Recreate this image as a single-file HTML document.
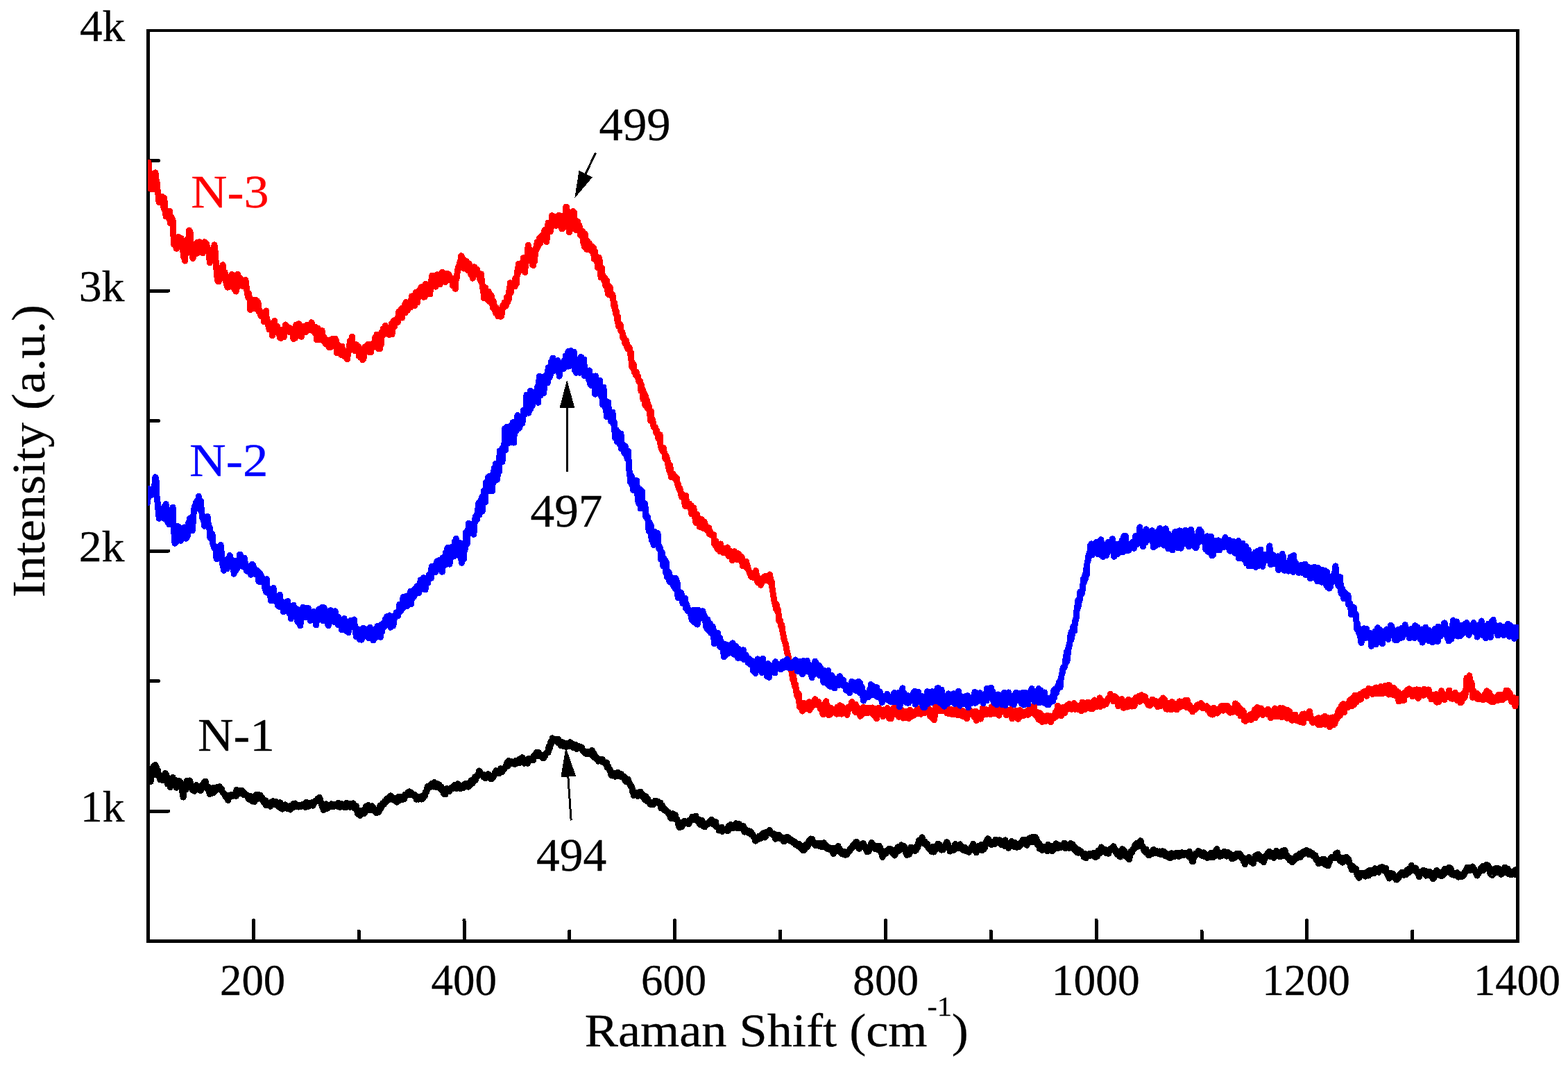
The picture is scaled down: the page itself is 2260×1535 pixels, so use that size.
<!DOCTYPE html>
<html lang="en"><head><meta charset="utf-8"><title>Raman spectra</title>
<style>html,body{margin:0;padding:0;background:#fff;overflow:hidden}svg{display:block}text{font-family:'Liberation Serif', serif}</style></head><body>
<svg width="2260" height="1535" viewBox="0 0 2260 1535">
<rect x="0" y="0" width="2260" height="1535" fill="#fff"/>
<g fill="#000" stroke="none" shape-rendering="crispEdges">
<rect x="211" y="42" width="5" height="1317"/>
<rect x="2185" y="42" width="5" height="1317"/>
<rect x="211" y="42" width="1979" height="4"/>
<rect x="211" y="1354" width="1979" height="5"/>
</g>
<g fill="none" stroke="#000" stroke-width="5" stroke-linecap="round" shape-rendering="crispEdges">
<path d="M365.3,1356V1326.5M517.2,1356V1342.0M669.0,1356V1326.5M820.9,1356V1342.0M972.7,1356V1326.5M1124.6,1356V1342.0M1276.4,1356V1326.5M1428.3,1356V1342.0M1580.1,1356V1326.5M1732.0,1356V1342.0M1883.8,1356V1326.5M2035.7,1356V1342.0M213.5,1169.0H243.0M213.5,981.5H228.5M213.5,794.0H243.0M213.5,606.5H228.5M213.5,419.0H243.0M213.5,231.5H228.5"/>
</g>
<clipPath id="plot"><rect x="213" y="46" width="1976" height="1308"/></clipPath>
<g fill="none" stroke-linejoin="round" stroke-linecap="round" shape-rendering="crispEdges" clip-path="url(#plot)">
<path id="black" stroke="#000" stroke-width="9" d="M212.5,1124.1 L213.3,1119.9 L214.0,1121.0 L214.8,1119.3 L215.5,1124.9 L216.3,1115.7 L217.1,1126.6 L217.8,1117.2 L218.6,1118.9 L219.3,1114.4 L220.1,1117.6 L220.9,1104.4 L221.6,1107.5 L222.4,1104.8 L223.1,1108.4 L223.9,1102.3 L224.7,1106.7 L225.4,1105.6 L226.2,1109.8 L226.9,1114.0 L227.7,1110.1 L228.5,1118.7 L229.2,1119.9 L230.0,1121.0 L230.7,1123.6 L231.5,1119.7 L232.3,1123.6 L233.0,1122.5 L233.8,1123.8 L234.5,1124.8 L235.3,1120.6 L236.1,1120.2 L236.8,1117.5 L237.6,1115.7 L238.3,1114.5 L239.1,1117.7 L239.9,1116.3 L240.6,1122.8 L241.4,1130.1 L242.1,1129.4 L242.9,1128.1 L243.7,1127.8 L244.4,1129.7 L245.2,1134.7 L245.9,1128.2 L246.7,1123.0 L247.5,1123.7 L248.2,1127.2 L249.0,1120.3 L249.7,1123.8 L250.5,1124.7 L251.3,1124.4 L252.0,1124.4 L252.8,1129.2 L253.5,1131.0 L254.3,1135.3 L255.1,1134.4 L255.8,1133.4 L256.6,1131.1 L257.3,1131.7 L258.1,1125.5 L258.9,1131.4 L259.6,1128.0 L260.4,1127.7 L261.1,1133.1 L261.9,1134.4 L262.7,1141.2 L263.4,1145.3 L264.2,1149.1 L264.9,1136.8 L265.7,1135.5 L266.5,1137.0 L267.2,1137.8 L268.0,1137.9 L268.7,1134.4 L269.5,1125.2 L270.3,1129.2 L271.0,1131.0 L271.8,1127.6 L272.5,1128.3 L273.3,1125.0 L274.1,1127.3 L274.8,1130.6 L275.6,1134.6 L276.3,1136.1 L277.1,1138.5 L277.9,1136.3 L278.6,1139.3 L279.4,1137.5 L280.1,1140.3 L280.9,1139.8 L281.7,1135.5 L282.4,1133.3 L283.2,1131.5 L283.9,1135.9 L284.7,1134.8 L285.5,1134.7 L286.2,1136.4 L287.0,1135.2 L287.7,1138.8 L288.5,1134.5 L289.3,1139.6 L290.0,1136.6 L290.8,1136.6 L291.5,1130.8 L292.3,1134.3 L293.1,1134.2 L293.8,1128.1 L294.6,1129.3 L295.3,1130.4 L296.1,1126.1 L296.9,1133.1 L297.6,1136.1 L298.4,1132.8 L299.1,1137.4 L299.9,1133.7 L300.7,1139.8 L301.4,1138.6 L302.2,1144.7 L302.9,1142.4 L303.7,1140.6 L304.5,1138.9 L305.2,1142.4 L306.0,1143.1 L306.7,1135.8 L307.5,1141.8 L308.3,1142.2 L309.0,1139.1 L309.8,1135.7 L310.5,1139.8 L311.3,1137.4 L312.1,1136.0 L312.8,1134.4 L313.6,1137.7 L314.3,1137.7 L315.1,1134.8 L315.9,1136.9 L316.6,1133.8 L317.4,1137.5 L318.1,1135.7 L318.9,1136.2 L319.7,1137.7 L320.4,1141.2 L321.2,1142.1 L321.9,1143.0 L322.7,1143.1 L323.5,1144.2 L324.2,1146.7 L325.0,1147.1 L325.7,1149.2 L326.5,1148.4 L327.3,1146.1 L328.0,1151.8 L328.8,1153.7 L329.5,1149.8 L330.3,1148.5 L331.1,1148.0 L331.8,1147.4 L332.6,1147.4 L333.3,1145.4 L334.1,1146.3 L334.9,1145.3 L335.6,1147.3 L336.4,1145.7 L337.1,1146.9 L337.9,1145.3 L338.7,1146.6 L339.4,1144.3 L340.2,1147.6 L340.9,1138.3 L341.7,1140.3 L342.5,1143.0 L343.2,1144.7 L344.0,1139.6 L344.7,1139.8 L345.5,1139.1 L346.3,1143.2 L347.0,1140.3 L347.8,1142.7 L348.5,1141.5 L349.3,1139.8 L350.1,1143.0 L350.8,1144.0 L351.6,1145.9 L352.3,1143.9 L353.1,1143.4 L353.9,1146.2 L354.6,1146.0 L355.4,1146.3 L356.1,1146.3 L356.9,1149.3 L357.7,1148.5 L358.4,1152.1 L359.2,1151.2 L359.9,1150.5 L360.7,1147.1 L361.5,1152.7 L362.2,1153.2 L363.0,1154.4 L363.7,1155.1 L364.5,1152.8 L365.3,1155.0 L366.0,1151.5 L366.8,1155.4 L367.5,1148.3 L368.3,1146.5 L369.1,1145.2 L369.8,1146.0 L370.6,1145.4 L371.3,1151.5 L372.1,1146.9 L372.9,1145.1 L373.6,1150.0 L374.4,1147.1 L375.1,1146.0 L375.9,1150.3 L376.7,1150.4 L377.4,1148.8 L378.2,1153.1 L378.9,1151.9 L379.7,1155.6 L380.5,1154.5 L381.2,1157.9 L382.0,1155.9 L382.7,1153.6 L383.5,1160.7 L384.3,1156.2 L385.0,1157.9 L385.8,1158.0 L386.5,1158.6 L387.3,1159.7 L388.1,1159.5 L388.8,1160.0 L389.6,1162.3 L390.3,1158.5 L391.1,1155.9 L391.9,1156.2 L392.6,1156.9 L393.4,1154.6 L394.1,1159.6 L394.9,1156.8 L395.7,1157.1 L396.4,1157.8 L397.2,1155.1 L397.9,1156.5 L398.7,1160.0 L399.5,1159.9 L400.2,1157.9 L401.0,1162.6 L401.7,1157.1 L402.5,1159.1 L403.3,1160.0 L404.0,1156.7 L404.8,1165.0 L405.5,1162.2 L406.3,1160.1 L407.1,1166.3 L407.8,1164.2 L408.6,1164.1 L409.3,1161.8 L410.1,1163.2 L410.9,1159.8 L411.6,1164.8 L412.4,1162.2 L413.1,1163.1 L413.9,1165.3 L414.7,1163.8 L415.4,1163.5 L416.2,1163.8 L416.9,1161.8 L417.7,1165.4 L418.5,1167.1 L419.2,1165.6 L420.0,1165.4 L420.7,1161.6 L421.5,1160.9 L422.3,1158.8 L423.0,1163.6 L423.8,1160.0 L424.5,1163.0 L425.3,1157.9 L426.1,1158.7 L426.8,1160.3 L427.6,1162.5 L428.3,1161.5 L429.1,1162.0 L429.9,1161.9 L430.6,1163.1 L431.4,1160.5 L432.1,1162.3 L432.9,1161.8 L433.7,1161.7 L434.4,1162.3 L435.2,1159.9 L435.9,1160.4 L436.7,1159.8 L437.5,1161.3 L438.2,1161.8 L439.0,1158.4 L439.7,1161.4 L440.5,1163.6 L441.3,1156.3 L442.0,1157.7 L442.8,1157.5 L443.5,1158.9 L444.3,1162.7 L445.1,1159.4 L445.8,1157.7 L446.6,1160.0 L447.3,1157.3 L448.1,1160.5 L448.9,1158.5 L449.6,1160.7 L450.4,1156.3 L451.1,1161.1 L451.9,1158.5 L452.7,1158.0 L453.4,1156.2 L454.2,1154.5 L454.9,1154.1 L455.7,1154.8 L456.5,1153.2 L457.2,1154.3 L458.0,1151.1 L458.7,1153.5 L459.5,1153.2 L460.3,1149.2 L461.0,1152.5 L461.8,1152.2 L462.5,1157.4 L463.3,1158.4 L464.1,1162.1 L464.8,1160.2 L465.6,1164.7 L466.3,1167.5 L467.1,1163.4 L467.9,1160.1 L468.6,1159.6 L469.4,1159.4 L470.1,1158.8 L470.9,1162.3 L471.7,1165.5 L472.4,1162.2 L473.2,1163.1 L473.9,1162.0 L474.7,1162.1 L475.5,1161.5 L476.2,1161.4 L477.0,1162.1 L477.7,1158.6 L478.5,1162.7 L479.3,1162.7 L480.0,1160.1 L480.8,1162.5 L481.5,1159.2 L482.3,1159.5 L483.1,1160.8 L483.8,1160.1 L484.6,1159.7 L485.3,1159.5 L486.1,1159.8 L486.9,1162.4 L487.6,1157.3 L488.4,1161.8 L489.1,1161.2 L489.9,1163.4 L490.7,1163.1 L491.4,1158.1 L492.2,1162.9 L492.9,1162.1 L493.7,1161.1 L494.5,1160.2 L495.2,1162.3 L496.0,1159.5 L496.7,1163.8 L497.5,1161.0 L498.3,1164.0 L499.0,1158.7 L499.8,1157.2 L500.5,1162.2 L501.3,1162.7 L502.1,1160.9 L502.8,1158.0 L503.6,1160.8 L504.3,1163.2 L505.1,1161.5 L505.9,1161.6 L506.6,1161.0 L507.4,1159.2 L508.1,1159.7 L508.9,1157.9 L509.7,1164.4 L510.4,1160.9 L511.2,1163.6 L511.9,1161.1 L512.7,1165.9 L513.5,1161.7 L514.2,1168.8 L515.0,1168.1 L515.7,1173.3 L516.5,1167.7 L517.3,1171.4 L518.0,1172.6 L518.8,1175.5 L519.5,1173.1 L520.3,1173.8 L521.1,1168.9 L521.8,1170.3 L522.6,1171.8 L523.3,1172.6 L524.1,1169.0 L524.9,1172.7 L525.6,1171.7 L526.4,1167.0 L527.1,1162.2 L527.9,1162.5 L528.7,1163.9 L529.4,1167.2 L530.2,1165.5 L530.9,1160.3 L531.7,1163.7 L532.5,1167.3 L533.2,1163.6 L534.0,1162.5 L534.7,1167.8 L535.5,1163.2 L536.3,1161.7 L537.0,1164.0 L537.8,1164.1 L538.5,1164.3 L539.3,1168.5 L540.1,1169.3 L540.8,1168.8 L541.6,1168.3 L542.3,1171.9 L543.1,1170.3 L543.9,1170.4 L544.6,1170.7 L545.4,1169.3 L546.1,1170.3 L546.9,1166.6 L547.7,1161.3 L548.4,1161.4 L549.2,1165.3 L549.9,1160.9 L550.7,1161.1 L551.5,1157.7 L552.2,1160.4 L553.0,1156.7 L553.7,1159.3 L554.5,1154.7 L555.3,1157.2 L556.0,1156.0 L556.8,1152.2 L557.5,1154.9 L558.3,1150.7 L559.1,1150.4 L559.8,1153.2 L560.6,1149.2 L561.3,1148.7 L562.1,1148.6 L562.9,1146.8 L563.6,1151.1 L564.4,1150.5 L565.1,1149.8 L565.9,1149.6 L566.7,1150.7 L567.4,1153.4 L568.2,1152.4 L568.9,1150.2 L569.7,1153.2 L570.5,1151.5 L571.2,1151.3 L572.0,1156.1 L572.7,1151.1 L573.5,1151.2 L574.3,1148.5 L575.0,1149.8 L575.8,1153.8 L576.5,1150.9 L577.3,1152.3 L578.1,1148.6 L578.8,1149.0 L579.6,1151.0 L580.3,1152.3 L581.1,1150.1 L581.9,1151.2 L582.6,1151.7 L583.4,1149.6 L584.1,1145.0 L584.9,1146.0 L585.7,1146.7 L586.4,1144.1 L587.2,1145.7 L587.9,1141.8 L588.7,1143.1 L589.5,1145.8 L590.2,1140.8 L591.0,1143.0 L591.7,1145.2 L592.5,1142.0 L593.3,1145.6 L594.0,1143.8 L594.8,1145.1 L595.5,1145.1 L596.3,1146.7 L597.1,1145.1 L597.8,1147.1 L598.6,1146.1 L599.3,1149.2 L600.1,1152.2 L600.9,1150.3 L601.6,1151.2 L602.4,1148.7 L603.1,1152.2 L603.9,1148.6 L604.7,1148.5 L605.4,1150.7 L606.2,1149.9 L606.9,1151.5 L607.7,1152.1 L608.5,1147.4 L609.2,1148.2 L610.0,1150.6 L610.7,1148.5 L611.5,1147.8 L612.3,1147.6 L613.0,1142.1 L613.8,1142.0 L614.5,1141.5 L615.3,1139.8 L616.1,1133.6 L616.8,1133.6 L617.6,1134.3 L618.3,1133.1 L619.1,1132.6 L619.9,1134.5 L620.6,1132.3 L621.4,1129.9 L622.1,1134.0 L622.9,1132.3 L623.7,1131.7 L624.4,1129.5 L625.2,1134.1 L625.9,1127.6 L626.7,1128.1 L627.5,1130.8 L628.2,1134.2 L629.0,1134.5 L629.7,1130.2 L630.5,1132.6 L631.3,1129.9 L632.0,1135.2 L632.8,1130.7 L633.5,1133.7 L634.3,1136.0 L635.1,1134.0 L635.8,1137.8 L636.6,1134.4 L637.3,1138.0 L638.1,1140.4 L638.9,1140.1 L639.6,1144.3 L640.4,1143.8 L641.1,1138.6 L641.9,1145.0 L642.7,1141.6 L643.4,1139.9 L644.2,1136.6 L644.9,1138.9 L645.7,1137.3 L646.5,1138.5 L647.2,1137.7 L648.0,1140.5 L648.7,1136.7 L649.5,1137.5 L650.3,1136.6 L651.0,1135.3 L651.8,1134.4 L652.5,1136.7 L653.3,1135.5 L654.1,1132.6 L654.8,1131.6 L655.6,1133.1 L656.3,1135.4 L657.1,1132.5 L657.9,1136.6 L658.6,1131.6 L659.4,1134.1 L660.1,1129.7 L660.9,1132.5 L661.7,1133.1 L662.4,1134.7 L663.2,1136.8 L663.9,1133.3 L664.7,1136.0 L665.5,1134.4 L666.2,1134.9 L667.0,1131.9 L667.7,1135.6 L668.5,1130.8 L669.3,1133.5 L670.0,1129.9 L670.8,1131.0 L671.5,1129.2 L672.3,1131.0 L673.1,1132.4 L673.8,1131.5 L674.6,1129.0 L675.3,1134.2 L676.1,1131.3 L676.9,1132.3 L677.6,1131.8 L678.4,1128.2 L679.1,1124.9 L679.9,1126.1 L680.7,1129.4 L681.4,1124.2 L682.2,1126.7 L682.9,1123.4 L683.7,1124.5 L684.5,1119.6 L685.2,1124.4 L686.0,1120.7 L686.7,1121.0 L687.5,1119.0 L688.3,1119.2 L689.0,1115.7 L689.8,1116.5 L690.5,1111.0 L691.3,1111.5 L692.1,1115.4 L692.8,1114.8 L693.6,1115.4 L694.3,1116.2 L695.1,1117.6 L695.9,1116.5 L696.6,1119.6 L697.4,1116.8 L698.1,1118.1 L698.9,1121.3 L699.7,1121.8 L700.4,1117.5 L701.2,1121.0 L701.9,1117.2 L702.7,1120.9 L703.5,1115.6 L704.2,1116.6 L705.0,1118.3 L705.7,1118.8 L706.5,1122.1 L707.3,1121.5 L708.0,1123.0 L708.8,1122.6 L709.5,1118.8 L710.3,1118.0 L711.1,1120.0 L711.8,1118.1 L712.6,1116.8 L713.3,1113.8 L714.1,1115.5 L714.9,1110.7 L715.6,1113.7 L716.4,1111.8 L717.1,1114.8 L717.9,1112.4 L718.7,1111.9 L719.4,1114.8 L720.2,1109.9 L720.9,1112.2 L721.7,1107.5 L722.5,1111.3 L723.2,1111.4 L724.0,1112.3 L724.7,1108.3 L725.5,1109.7 L726.3,1109.0 L727.0,1106.9 L727.8,1105.9 L728.5,1105.7 L729.3,1104.3 L730.1,1100.7 L730.8,1099.0 L731.6,1104.4 L732.3,1103.5 L733.1,1096.7 L733.9,1099.9 L734.6,1100.4 L735.4,1100.6 L736.1,1099.8 L736.9,1097.7 L737.7,1099.0 L738.4,1098.8 L739.2,1100.3 L739.9,1099.0 L740.7,1099.3 L741.5,1101.3 L742.2,1101.5 L743.0,1096.7 L743.7,1097.1 L744.5,1096.3 L745.3,1100.2 L746.0,1096.8 L746.8,1099.3 L747.5,1095.8 L748.3,1096.8 L749.1,1093.8 L749.8,1099.5 L750.6,1096.4 L751.3,1094.1 L752.1,1095.3 L752.9,1091.7 L753.6,1096.2 L754.4,1096.9 L755.1,1097.6 L755.9,1100.3 L756.7,1097.3 L757.4,1099.3 L758.2,1098.2 L758.9,1097.8 L759.7,1094.8 L760.5,1100.3 L761.2,1096.5 L762.0,1096.9 L762.7,1093.4 L763.5,1096.1 L764.3,1095.6 L765.0,1094.6 L765.8,1093.3 L766.5,1095.0 L767.3,1094.6 L768.1,1093.7 L768.8,1095.5 L769.6,1089.5 L770.3,1089.4 L771.1,1087.7 L771.9,1089.6 L772.6,1087.2 L773.4,1084.3 L774.1,1085.1 L774.9,1087.7 L775.7,1089.3 L776.4,1084.6 L777.2,1087.2 L777.9,1088.6 L778.7,1087.3 L779.5,1090.2 L780.2,1089.4 L781.0,1090.5 L781.7,1088.2 L782.5,1092.7 L783.3,1089.9 L784.0,1092.6 L784.8,1088.4 L785.5,1090.1 L786.3,1087.1 L787.1,1086.2 L787.8,1085.6 L788.6,1085.2 L789.3,1083.2 L790.1,1084.8 L790.9,1077.3 L791.6,1075.1 L792.4,1078.9 L793.1,1075.2 L793.9,1068.8 L794.7,1072.3 L795.4,1070.2 L796.2,1063.8 L796.9,1065.8 L797.7,1065.1 L798.5,1065.2 L799.2,1066.6 L800.0,1065.5 L800.7,1068.0 L801.5,1066.4 L802.3,1065.7 L803.0,1066.4 L803.8,1070.3 L804.5,1065.5 L805.3,1071.1 L806.1,1068.2 L806.8,1070.2 L807.6,1072.9 L808.3,1074.8 L809.1,1069.2 L809.9,1071.9 L810.6,1073.8 L811.4,1072.6 L812.1,1075.8 L812.9,1070.8 L813.7,1075.5 L814.4,1075.4 L815.2,1074.3 L815.9,1076.4 L816.7,1071.6 L817.5,1075.8 L818.2,1072.3 L819.0,1074.8 L819.7,1073.1 L820.5,1075.2 L821.3,1074.3 L822.0,1069.7 L822.8,1072.5 L823.5,1073.1 L824.3,1072.4 L825.1,1072.1 L825.8,1077.5 L826.6,1075.1 L827.3,1078.0 L828.1,1073.6 L828.9,1073.0 L829.6,1075.5 L830.4,1074.8 L831.1,1079.6 L831.9,1076.7 L832.7,1078.6 L833.4,1075.8 L834.2,1075.6 L834.9,1076.0 L835.7,1077.0 L836.5,1078.5 L837.2,1077.7 L838.0,1076.8 L838.7,1077.1 L839.5,1079.9 L840.3,1082.6 L841.0,1083.6 L841.8,1083.2 L842.5,1082.9 L843.3,1084.9 L844.1,1086.3 L844.8,1084.9 L845.6,1085.0 L846.3,1084.4 L847.1,1086.3 L847.9,1083.1 L848.6,1083.5 L849.4,1084.2 L850.1,1084.7 L850.9,1086.4 L851.7,1084.8 L852.4,1084.3 L853.2,1081.2 L853.9,1086.4 L854.7,1090.4 L855.5,1085.6 L856.2,1086.4 L857.0,1088.9 L857.7,1092.6 L858.5,1092.4 L859.3,1090.7 L860.0,1092.1 L860.8,1094.5 L861.5,1094.3 L862.3,1097.1 L863.1,1095.7 L863.8,1095.1 L864.6,1096.0 L865.3,1094.6 L866.1,1094.0 L866.9,1096.4 L867.6,1098.0 L868.4,1094.7 L869.1,1096.8 L869.9,1097.6 L870.7,1099.4 L871.4,1098.8 L872.2,1100.6 L872.9,1100.5 L873.7,1102.8 L874.5,1098.9 L875.2,1106.1 L876.0,1106.5 L876.7,1104.6 L877.5,1107.5 L878.3,1109.6 L879.0,1108.5 L879.8,1112.4 L880.5,1115.9 L881.3,1117.3 L882.1,1118.1 L882.8,1115.9 L883.6,1115.9 L884.3,1114.1 L885.1,1114.9 L885.9,1114.7 L886.6,1119.3 L887.4,1116.7 L888.1,1114.3 L888.9,1117.1 L889.7,1116.4 L890.4,1113.2 L891.2,1118.0 L891.9,1114.6 L892.7,1119.0 L893.5,1116.4 L894.2,1115.2 L895.0,1119.5 L895.7,1115.8 L896.5,1118.2 L897.3,1119.3 L898.0,1120.5 L898.8,1121.5 L899.5,1120.6 L900.3,1119.7 L901.1,1125.8 L901.8,1121.6 L902.6,1126.6 L903.3,1122.4 L904.1,1126.3 L904.9,1127.1 L905.6,1123.4 L906.4,1127.5 L907.1,1129.4 L907.9,1130.9 L908.7,1131.0 L909.4,1133.5 L910.2,1133.4 L910.9,1134.1 L911.7,1141.2 L912.5,1140.6 L913.2,1146.5 L914.0,1145.5 L914.7,1142.6 L915.5,1144.0 L916.3,1143.6 L917.0,1142.6 L917.8,1145.8 L918.5,1143.7 L919.3,1147.6 L920.1,1145.6 L920.8,1142.5 L921.6,1144.6 L922.3,1144.2 L923.1,1141.1 L923.9,1146.1 L924.6,1146.0 L925.4,1146.6 L926.1,1145.0 L926.9,1148.8 L927.7,1147.1 L928.4,1150.2 L929.2,1152.4 L929.9,1149.5 L930.7,1147.7 L931.5,1150.3 L932.2,1153.1 L933.0,1155.1 L933.7,1151.2 L934.5,1154.0 L935.3,1155.7 L936.0,1157.0 L936.8,1159.1 L937.5,1156.3 L938.3,1157.3 L939.1,1160.0 L939.8,1158.3 L940.6,1158.8 L941.3,1159.8 L942.1,1157.7 L942.9,1158.6 L943.6,1156.8 L944.4,1154.1 L945.1,1154.2 L945.9,1156.5 L946.7,1156.1 L947.4,1155.0 L948.2,1156.9 L948.9,1155.3 L949.7,1158.1 L950.5,1159.0 L951.2,1157.9 L952.0,1157.0 L952.7,1165.0 L953.5,1164.1 L954.3,1160.7 L955.0,1164.3 L955.8,1166.4 L956.5,1165.6 L957.3,1167.9 L958.1,1165.5 L958.8,1168.6 L959.6,1168.1 L960.3,1168.1 L961.1,1168.5 L961.9,1169.3 L962.6,1171.6 L963.4,1170.7 L964.1,1172.6 L964.9,1175.1 L965.7,1175.8 L966.4,1178.3 L967.2,1179.0 L967.9,1179.9 L968.7,1176.7 L969.5,1172.8 L970.2,1176.9 L971.0,1177.3 L971.7,1176.0 L972.5,1176.8 L973.3,1174.5 L974.0,1181.0 L974.8,1181.1 L975.5,1180.2 L976.3,1182.8 L977.1,1184.4 L977.8,1189.1 L978.6,1190.6 L979.3,1192.7 L980.1,1190.8 L980.9,1186.3 L981.6,1185.7 L982.4,1190.8 L983.1,1191.5 L983.9,1188.2 L984.7,1189.0 L985.4,1184.2 L986.2,1183.1 L986.9,1184.6 L987.7,1185.8 L988.5,1185.5 L989.2,1185.7 L990.0,1184.7 L990.7,1186.7 L991.5,1187.2 L992.3,1184.4 L993.0,1187.5 L993.8,1182.0 L994.5,1181.7 L995.3,1182.7 L996.1,1180.3 L996.8,1182.4 L997.6,1177.4 L998.3,1180.9 L999.1,1178.1 L999.9,1181.2 L1000.6,1177.5 L1001.4,1178.5 L1002.1,1179.4 L1002.9,1176.0 L1003.7,1182.0 L1004.4,1183.0 L1005.2,1183.3 L1005.9,1180.3 L1006.7,1181.0 L1007.5,1185.6 L1008.2,1187.3 L1009.0,1188.5 L1009.7,1184.0 L1010.5,1183.9 L1011.3,1186.0 L1012.0,1182.5 L1012.8,1185.9 L1013.5,1189.3 L1014.3,1191.3 L1015.1,1189.1 L1015.8,1192.0 L1016.6,1190.0 L1017.3,1189.5 L1018.1,1188.4 L1018.9,1188.5 L1019.6,1187.8 L1020.4,1187.3 L1021.1,1185.8 L1021.9,1187.1 L1022.7,1186.4 L1023.4,1183.0 L1024.2,1184.9 L1024.9,1183.2 L1025.7,1181.0 L1026.5,1185.7 L1027.2,1187.4 L1028.0,1188.1 L1028.7,1187.6 L1029.5,1183.9 L1030.3,1188.9 L1031.0,1190.0 L1031.8,1184.8 L1032.5,1191.7 L1033.3,1191.7 L1034.1,1191.8 L1034.8,1192.8 L1035.6,1193.2 L1036.3,1197.1 L1037.1,1193.6 L1037.9,1194.5 L1038.6,1195.0 L1039.4,1195.8 L1040.1,1192.2 L1040.9,1198.5 L1041.7,1196.2 L1042.4,1197.3 L1043.2,1196.8 L1043.9,1196.1 L1044.7,1195.5 L1045.5,1196.2 L1046.2,1195.9 L1047.0,1197.3 L1047.7,1195.0 L1048.5,1194.1 L1049.3,1197.5 L1050.0,1190.7 L1050.8,1189.8 L1051.5,1193.0 L1052.3,1191.8 L1053.1,1188.5 L1053.8,1191.0 L1054.6,1190.1 L1055.3,1193.7 L1056.1,1190.2 L1056.9,1193.6 L1057.6,1191.9 L1058.4,1190.9 L1059.1,1191.1 L1059.9,1191.8 L1060.7,1186.8 L1061.4,1191.5 L1062.2,1189.9 L1062.9,1194.0 L1063.7,1189.0 L1064.5,1193.4 L1065.2,1187.5 L1066.0,1193.6 L1066.7,1193.1 L1067.5,1192.1 L1068.3,1192.6 L1069.0,1192.3 L1069.8,1193.9 L1070.5,1193.4 L1071.3,1190.6 L1072.1,1194.2 L1072.8,1199.2 L1073.6,1195.3 L1074.3,1196.3 L1075.1,1195.6 L1075.9,1197.5 L1076.6,1198.1 L1077.4,1197.7 L1078.1,1200.2 L1078.9,1197.3 L1079.7,1199.1 L1080.4,1200.8 L1081.2,1199.7 L1081.9,1198.3 L1082.7,1202.7 L1083.5,1200.7 L1084.2,1202.8 L1085.0,1203.1 L1085.7,1205.6 L1086.5,1205.6 L1087.3,1206.7 L1088.0,1209.8 L1088.8,1212.2 L1089.5,1207.7 L1090.3,1209.5 L1091.1,1207.0 L1091.8,1208.0 L1092.6,1209.8 L1093.3,1207.1 L1094.1,1205.2 L1094.9,1205.5 L1095.6,1205.5 L1096.4,1206.5 L1097.1,1208.2 L1097.9,1203.3 L1098.7,1203.4 L1099.4,1203.1 L1100.2,1200.7 L1100.9,1206.9 L1101.7,1203.9 L1102.5,1207.1 L1103.2,1199.9 L1104.0,1204.9 L1104.7,1200.5 L1105.5,1200.5 L1106.3,1199.4 L1107.0,1198.7 L1107.8,1198.0 L1108.5,1200.3 L1109.3,1196.4 L1110.1,1198.8 L1110.8,1199.9 L1111.6,1202.1 L1112.3,1201.6 L1113.1,1202.8 L1113.9,1203.4 L1114.6,1203.2 L1115.4,1204.0 L1116.1,1201.9 L1116.9,1202.8 L1117.7,1209.2 L1118.4,1205.8 L1119.2,1204.3 L1119.9,1208.3 L1120.7,1205.6 L1121.5,1204.7 L1122.2,1203.2 L1123.0,1208.1 L1123.7,1204.4 L1124.5,1206.0 L1125.3,1208.3 L1126.0,1207.7 L1126.8,1207.4 L1127.5,1207.9 L1128.3,1210.6 L1129.1,1212.6 L1129.8,1207.4 L1130.6,1209.6 L1131.3,1212.3 L1132.1,1210.4 L1132.9,1206.9 L1133.6,1207.4 L1134.4,1207.3 L1135.1,1206.4 L1135.9,1207.1 L1136.7,1209.2 L1137.4,1208.0 L1138.2,1211.7 L1138.9,1210.6 L1139.7,1209.8 L1140.5,1212.7 L1141.2,1212.0 L1142.0,1211.9 L1142.7,1214.2 L1143.5,1213.6 L1144.3,1212.5 L1145.0,1214.8 L1145.8,1213.6 L1146.5,1217.4 L1147.3,1216.5 L1148.1,1217.5 L1148.8,1217.8 L1149.6,1216.5 L1150.3,1219.5 L1151.1,1217.6 L1151.9,1216.6 L1152.6,1218.2 L1153.4,1221.3 L1154.1,1218.4 L1154.9,1223.0 L1155.7,1221.7 L1156.4,1224.8 L1157.2,1221.2 L1157.9,1225.9 L1158.7,1223.4 L1159.5,1218.7 L1160.2,1224.3 L1161.0,1219.0 L1161.7,1217.6 L1162.5,1216.6 L1163.3,1219.3 L1164.0,1220.5 L1164.8,1215.7 L1165.5,1213.2 L1166.3,1211.6 L1167.1,1215.4 L1167.8,1213.9 L1168.6,1208.9 L1169.3,1209.9 L1170.1,1209.2 L1170.9,1210.1 L1171.6,1213.4 L1172.4,1213.4 L1173.1,1214.4 L1173.9,1214.4 L1174.7,1218.3 L1175.4,1217.5 L1176.2,1218.3 L1176.9,1218.7 L1177.7,1215.8 L1178.5,1217.4 L1179.2,1217.4 L1180.0,1218.3 L1180.7,1215.6 L1181.5,1215.2 L1182.3,1220.1 L1183.0,1219.6 L1183.8,1219.5 L1184.5,1221.0 L1185.3,1218.5 L1186.1,1217.7 L1186.8,1218.8 L1187.6,1214.6 L1188.3,1216.9 L1189.1,1221.1 L1189.9,1220.8 L1190.6,1218.3 L1191.4,1221.6 L1192.1,1223.2 L1192.9,1223.1 L1193.7,1222.1 L1194.4,1221.0 L1195.2,1223.5 L1195.9,1224.4 L1196.7,1223.6 L1197.5,1225.5 L1198.2,1225.4 L1199.0,1226.7 L1199.7,1222.4 L1200.5,1229.0 L1201.3,1230.6 L1202.0,1225.8 L1202.8,1222.8 L1203.5,1226.5 L1204.3,1223.6 L1205.1,1222.6 L1205.8,1226.7 L1206.6,1220.9 L1207.3,1224.2 L1208.1,1219.5 L1208.9,1224.4 L1209.6,1223.6 L1210.4,1223.4 L1211.1,1226.0 L1211.9,1228.5 L1212.7,1230.1 L1213.4,1230.9 L1214.2,1230.5 L1214.9,1228.2 L1215.7,1230.6 L1216.5,1227.2 L1217.2,1231.9 L1218.0,1231.6 L1218.7,1232.4 L1219.5,1228.6 L1220.3,1230.1 L1221.0,1231.6 L1221.8,1228.9 L1222.5,1227.0 L1223.3,1227.6 L1224.1,1225.7 L1224.8,1226.6 L1225.6,1222.7 L1226.3,1223.7 L1227.1,1222.0 L1227.9,1222.0 L1228.6,1219.3 L1229.4,1218.9 L1230.1,1217.7 L1230.9,1217.2 L1231.7,1216.8 L1232.4,1215.7 L1233.2,1219.6 L1233.9,1213.5 L1234.7,1213.3 L1235.5,1215.0 L1236.2,1215.5 L1237.0,1218.3 L1237.7,1222.2 L1238.5,1223.5 L1239.3,1221.3 L1240.0,1217.1 L1240.8,1221.2 L1241.5,1216.6 L1242.3,1218.0 L1243.1,1215.9 L1243.8,1218.8 L1244.6,1215.7 L1245.3,1218.0 L1246.1,1218.9 L1246.9,1219.2 L1247.6,1221.7 L1248.4,1225.1 L1249.1,1223.8 L1249.9,1227.6 L1250.7,1227.5 L1251.4,1227.5 L1252.2,1226.6 L1252.9,1225.6 L1253.7,1222.0 L1254.5,1219.0 L1255.2,1218.6 L1256.0,1214.4 L1256.7,1221.8 L1257.5,1216.4 L1258.3,1221.5 L1259.0,1219.1 L1259.8,1222.2 L1260.5,1222.0 L1261.3,1223.6 L1262.1,1222.4 L1262.8,1219.3 L1263.6,1223.7 L1264.3,1221.3 L1265.1,1220.9 L1265.9,1220.2 L1266.6,1225.4 L1267.4,1219.3 L1268.1,1222.5 L1268.9,1221.6 L1269.7,1228.7 L1270.4,1226.9 L1271.2,1226.0 L1271.9,1235.5 L1272.7,1228.9 L1273.5,1233.1 L1274.2,1231.2 L1275.0,1231.1 L1275.7,1228.5 L1276.5,1228.5 L1277.3,1230.0 L1278.0,1226.1 L1278.8,1226.4 L1279.5,1227.4 L1280.3,1225.0 L1281.1,1223.5 L1281.8,1226.8 L1282.6,1224.4 L1283.3,1223.9 L1284.1,1223.9 L1284.9,1224.1 L1285.6,1229.0 L1286.4,1229.9 L1287.1,1225.0 L1287.9,1228.6 L1288.7,1232.3 L1289.4,1233.1 L1290.2,1231.7 L1290.9,1228.7 L1291.7,1228.6 L1292.5,1224.1 L1293.2,1225.5 L1294.0,1220.9 L1294.7,1222.0 L1295.5,1223.1 L1296.3,1226.1 L1297.0,1223.7 L1297.8,1222.5 L1298.5,1221.2 L1299.3,1217.9 L1300.1,1221.3 L1300.8,1219.5 L1301.6,1220.6 L1302.3,1219.0 L1303.1,1222.6 L1303.9,1220.6 L1304.6,1225.9 L1305.4,1228.5 L1306.1,1228.8 L1306.9,1232.5 L1307.7,1230.6 L1308.4,1232.1 L1309.2,1230.7 L1309.9,1226.8 L1310.7,1231.4 L1311.5,1227.9 L1312.2,1223.8 L1313.0,1221.1 L1313.7,1223.0 L1314.5,1223.5 L1315.3,1222.6 L1316.0,1223.2 L1316.8,1222.7 L1317.5,1223.2 L1318.3,1226.1 L1319.1,1226.3 L1319.8,1220.8 L1320.6,1225.1 L1321.3,1222.5 L1322.1,1221.1 L1322.9,1221.8 L1323.6,1215.9 L1324.4,1211.3 L1325.1,1214.0 L1325.9,1212.8 L1326.7,1214.0 L1327.4,1209.5 L1328.2,1213.1 L1328.9,1206.9 L1329.7,1208.9 L1330.5,1213.3 L1331.2,1214.0 L1332.0,1216.1 L1332.7,1215.5 L1333.5,1213.4 L1334.3,1216.8 L1335.0,1215.8 L1335.8,1219.3 L1336.5,1215.9 L1337.3,1220.1 L1338.1,1219.9 L1338.8,1223.5 L1339.6,1222.8 L1340.3,1223.2 L1341.1,1221.6 L1341.9,1225.1 L1342.6,1227.4 L1343.4,1227.1 L1344.1,1220.7 L1344.9,1220.9 L1345.7,1228.1 L1346.4,1223.5 L1347.2,1223.2 L1347.9,1225.3 L1348.7,1222.4 L1349.5,1219.7 L1350.2,1219.7 L1351.0,1223.1 L1351.7,1216.1 L1352.5,1221.0 L1353.3,1217.0 L1354.0,1217.3 L1354.8,1222.9 L1355.5,1219.6 L1356.3,1224.9 L1357.1,1225.1 L1357.8,1221.7 L1358.6,1223.4 L1359.3,1224.7 L1360.1,1220.9 L1360.9,1221.3 L1361.6,1219.2 L1362.4,1218.0 L1363.1,1216.4 L1363.9,1216.7 L1364.7,1213.5 L1365.4,1217.6 L1366.2,1216.4 L1366.9,1221.8 L1367.7,1223.3 L1368.5,1222.2 L1369.2,1227.1 L1370.0,1226.1 L1370.7,1225.0 L1371.5,1223.8 L1372.3,1225.0 L1373.0,1225.9 L1373.8,1222.0 L1374.5,1220.9 L1375.3,1224.7 L1376.1,1217.6 L1376.8,1216.7 L1377.6,1216.9 L1378.3,1220.4 L1379.1,1220.1 L1379.9,1220.7 L1380.6,1219.7 L1381.4,1222.5 L1382.1,1222.8 L1382.9,1221.2 L1383.7,1216.9 L1384.4,1220.7 L1385.2,1219.0 L1385.9,1220.9 L1386.7,1220.8 L1387.5,1223.5 L1388.2,1225.1 L1389.0,1224.4 L1389.7,1221.9 L1390.5,1221.4 L1391.3,1223.1 L1392.0,1223.3 L1392.8,1226.7 L1393.5,1224.7 L1394.3,1224.9 L1395.1,1225.0 L1395.8,1227.8 L1396.6,1228.3 L1397.3,1225.4 L1398.1,1223.8 L1398.9,1225.7 L1399.6,1222.7 L1400.4,1220.1 L1401.1,1222.0 L1401.9,1219.4 L1402.7,1216.2 L1403.4,1221.8 L1404.2,1222.9 L1404.9,1220.2 L1405.7,1221.2 L1406.5,1227.5 L1407.2,1229.0 L1408.0,1227.5 L1408.7,1223.0 L1409.5,1223.8 L1410.3,1224.7 L1411.0,1219.1 L1411.8,1221.4 L1412.5,1221.0 L1413.3,1222.7 L1414.1,1217.2 L1414.8,1221.5 L1415.6,1225.6 L1416.3,1220.3 L1417.1,1221.6 L1417.9,1224.3 L1418.6,1219.6 L1419.4,1222.2 L1420.1,1219.4 L1420.9,1213.8 L1421.7,1215.3 L1422.4,1210.8 L1423.2,1214.1 L1423.9,1208.7 L1424.7,1209.1 L1425.5,1211.0 L1426.2,1212.5 L1427.0,1216.4 L1427.7,1214.1 L1428.5,1214.8 L1429.3,1217.6 L1430.0,1214.5 L1430.8,1214.0 L1431.5,1213.0 L1432.3,1215.6 L1433.1,1216.9 L1433.8,1212.7 L1434.6,1210.4 L1435.3,1211.1 L1436.1,1210.3 L1436.9,1214.2 L1437.6,1211.2 L1438.4,1213.4 L1439.1,1211.9 L1439.9,1210.8 L1440.7,1210.9 L1441.4,1213.9 L1442.2,1216.9 L1442.9,1217.1 L1443.7,1217.9 L1444.5,1215.6 L1445.2,1215.1 L1446.0,1214.2 L1446.7,1216.1 L1447.5,1219.2 L1448.3,1214.0 L1449.0,1210.8 L1449.8,1218.1 L1450.5,1215.2 L1451.3,1219.7 L1452.1,1219.1 L1452.8,1219.6 L1453.6,1222.5 L1454.3,1216.3 L1455.1,1215.9 L1455.9,1217.0 L1456.6,1216.0 L1457.4,1214.2 L1458.1,1212.5 L1458.9,1214.4 L1459.7,1216.4 L1460.4,1213.9 L1461.2,1214.2 L1461.9,1220.7 L1462.7,1214.3 L1463.5,1219.1 L1464.2,1219.3 L1465.0,1217.0 L1465.7,1221.5 L1466.5,1218.3 L1467.3,1218.5 L1468.0,1217.5 L1468.8,1220.7 L1469.5,1216.8 L1470.3,1219.3 L1471.1,1214.7 L1471.8,1216.0 L1472.6,1216.3 L1473.3,1212.4 L1474.1,1210.6 L1474.9,1212.7 L1475.6,1216.0 L1476.4,1215.3 L1477.1,1213.2 L1477.9,1210.6 L1478.7,1215.6 L1479.4,1217.9 L1480.2,1218.1 L1480.9,1216.1 L1481.7,1213.9 L1482.5,1211.8 L1483.2,1211.3 L1484.0,1207.9 L1484.7,1214.0 L1485.5,1208.9 L1486.3,1213.6 L1487.0,1209.7 L1487.8,1206.4 L1488.5,1213.6 L1489.3,1208.2 L1490.1,1209.2 L1490.8,1213.1 L1491.6,1212.6 L1492.3,1206.5 L1493.1,1211.1 L1493.9,1209.1 L1494.6,1213.2 L1495.4,1217.3 L1496.1,1214.3 L1496.9,1219.3 L1497.7,1215.9 L1498.4,1223.3 L1499.2,1219.4 L1499.9,1220.7 L1500.7,1223.0 L1501.5,1219.6 L1502.2,1225.6 L1503.0,1220.5 L1503.7,1223.5 L1504.5,1220.4 L1505.3,1223.5 L1506.0,1223.2 L1506.8,1222.9 L1507.5,1224.9 L1508.3,1222.1 L1509.1,1226.8 L1509.8,1222.6 L1510.6,1217.3 L1511.3,1223.9 L1512.1,1219.9 L1512.9,1223.5 L1513.6,1221.9 L1514.4,1219.5 L1515.1,1224.6 L1515.9,1224.0 L1516.7,1226.8 L1517.4,1224.6 L1518.2,1224.5 L1518.9,1219.2 L1519.7,1221.8 L1520.5,1219.0 L1521.2,1220.2 L1522.0,1215.8 L1522.7,1217.9 L1523.5,1222.8 L1524.3,1217.2 L1525.0,1220.9 L1525.8,1222.2 L1526.5,1219.6 L1527.3,1220.9 L1528.1,1220.6 L1528.8,1222.0 L1529.6,1218.2 L1530.3,1219.3 L1531.1,1221.0 L1531.9,1218.0 L1532.6,1219.6 L1533.4,1217.7 L1534.1,1215.0 L1534.9,1219.6 L1535.7,1222.7 L1536.4,1218.1 L1537.2,1219.2 L1537.9,1217.8 L1538.7,1217.3 L1539.5,1219.0 L1540.2,1220.7 L1541.0,1222.7 L1541.7,1220.0 L1542.5,1216.6 L1543.3,1215.5 L1544.0,1221.4 L1544.8,1218.7 L1545.5,1217.4 L1546.3,1217.4 L1547.1,1218.7 L1547.8,1223.7 L1548.6,1222.2 L1549.3,1220.6 L1550.1,1226.2 L1550.9,1226.4 L1551.6,1225.7 L1552.4,1228.5 L1553.1,1225.6 L1553.9,1229.1 L1554.7,1224.9 L1555.4,1226.6 L1556.2,1225.6 L1556.9,1227.4 L1557.7,1226.9 L1558.5,1227.5 L1559.2,1229.5 L1560.0,1230.8 L1560.7,1230.7 L1561.5,1231.8 L1562.3,1235.2 L1563.0,1231.2 L1563.8,1230.2 L1564.5,1235.4 L1565.3,1237.0 L1566.1,1233.6 L1566.8,1234.6 L1567.6,1231.4 L1568.3,1233.1 L1569.1,1233.2 L1569.9,1232.2 L1570.6,1230.1 L1571.4,1233.7 L1572.1,1230.8 L1572.9,1231.8 L1573.7,1230.9 L1574.4,1231.4 L1575.2,1231.7 L1575.9,1229.6 L1576.7,1232.0 L1577.5,1234.6 L1578.2,1235.3 L1579.0,1233.0 L1579.7,1235.3 L1580.5,1230.3 L1581.3,1234.5 L1582.0,1231.0 L1582.8,1226.0 L1583.5,1228.7 L1584.3,1229.4 L1585.1,1225.1 L1585.8,1229.6 L1586.6,1227.5 L1587.3,1220.9 L1588.1,1225.6 L1588.9,1224.6 L1589.6,1223.7 L1590.4,1225.0 L1591.1,1225.2 L1591.9,1224.0 L1592.7,1225.4 L1593.4,1227.7 L1594.2,1229.6 L1594.9,1230.0 L1595.7,1226.4 L1596.5,1227.6 L1597.2,1226.3 L1598.0,1230.3 L1598.7,1224.5 L1599.5,1224.2 L1600.3,1224.5 L1601.0,1225.0 L1601.8,1222.4 L1602.5,1222.3 L1603.3,1221.2 L1604.1,1221.3 L1604.8,1219.7 L1605.6,1221.8 L1606.3,1224.4 L1607.1,1224.6 L1607.9,1227.7 L1608.6,1225.2 L1609.4,1229.6 L1610.1,1231.6 L1610.9,1228.9 L1611.7,1230.7 L1612.4,1232.1 L1613.2,1234.0 L1613.9,1233.9 L1614.7,1235.1 L1615.5,1231.4 L1616.2,1230.7 L1617.0,1227.8 L1617.7,1223.5 L1618.5,1226.6 L1619.3,1226.2 L1620.0,1225.9 L1620.8,1226.2 L1621.5,1228.8 L1622.3,1228.7 L1623.1,1234.7 L1623.8,1234.7 L1624.6,1232.0 L1625.3,1235.0 L1626.1,1237.0 L1626.9,1235.2 L1627.6,1238.7 L1628.4,1235.2 L1629.1,1231.9 L1629.9,1227.1 L1630.7,1228.0 L1631.4,1229.0 L1632.2,1226.1 L1632.9,1225.7 L1633.7,1222.8 L1634.5,1223.6 L1635.2,1220.7 L1636.0,1217.4 L1636.7,1219.0 L1637.5,1217.6 L1638.3,1215.0 L1639.0,1220.7 L1639.8,1217.2 L1640.5,1216.5 L1641.3,1218.0 L1642.1,1215.7 L1642.8,1216.8 L1643.6,1211.7 L1644.3,1212.2 L1645.1,1216.6 L1645.9,1220.0 L1646.6,1219.4 L1647.4,1221.9 L1648.1,1221.9 L1648.9,1225.8 L1649.7,1225.1 L1650.4,1226.6 L1651.2,1228.9 L1651.9,1224.0 L1652.7,1228.6 L1653.5,1227.7 L1654.2,1228.5 L1655.0,1232.5 L1655.7,1231.1 L1656.5,1232.9 L1657.3,1228.7 L1658.0,1231.8 L1658.8,1230.4 L1659.5,1229.2 L1660.3,1230.6 L1661.1,1230.4 L1661.8,1225.3 L1662.6,1224.8 L1663.3,1224.6 L1664.1,1229.8 L1664.9,1226.8 L1665.6,1227.7 L1666.4,1227.6 L1667.1,1226.4 L1667.9,1229.1 L1668.7,1229.2 L1669.4,1230.3 L1670.2,1227.8 L1670.9,1227.6 L1671.7,1226.9 L1672.5,1231.5 L1673.2,1230.6 L1674.0,1228.2 L1674.7,1229.2 L1675.5,1226.8 L1676.3,1232.0 L1677.0,1227.0 L1677.8,1228.1 L1678.5,1228.8 L1679.3,1233.6 L1680.1,1230.9 L1680.8,1233.2 L1681.6,1231.7 L1682.3,1230.7 L1683.1,1235.1 L1683.9,1232.8 L1684.6,1232.1 L1685.4,1233.1 L1686.1,1235.0 L1686.9,1236.9 L1687.7,1230.4 L1688.4,1229.6 L1689.2,1234.9 L1689.9,1233.1 L1690.7,1231.1 L1691.5,1232.6 L1692.2,1232.5 L1693.0,1234.7 L1693.7,1230.0 L1694.5,1233.0 L1695.3,1229.6 L1696.0,1229.3 L1696.8,1232.4 L1697.5,1229.9 L1698.3,1229.7 L1699.1,1234.5 L1699.8,1229.1 L1700.6,1233.7 L1701.3,1233.2 L1702.1,1232.9 L1702.9,1230.8 L1703.6,1228.8 L1704.4,1231.1 L1705.1,1229.8 L1705.9,1231.5 L1706.7,1232.4 L1707.4,1230.1 L1708.2,1229.1 L1708.9,1231.8 L1709.7,1230.0 L1710.5,1229.2 L1711.2,1230.4 L1712.0,1231.1 L1712.7,1234.3 L1713.5,1233.1 L1714.3,1227.2 L1715.0,1229.0 L1715.8,1233.2 L1716.5,1235.7 L1717.3,1235.6 L1718.1,1241.6 L1718.8,1241.8 L1719.6,1241.8 L1720.3,1236.5 L1721.1,1234.2 L1721.9,1232.7 L1722.6,1233.3 L1723.4,1230.1 L1724.1,1230.1 L1724.9,1229.5 L1725.7,1231.1 L1726.4,1228.6 L1727.2,1226.6 L1727.9,1228.6 L1728.7,1230.2 L1729.5,1230.7 L1730.2,1227.9 L1731.0,1231.2 L1731.7,1233.1 L1732.5,1231.6 L1733.3,1231.9 L1734.0,1231.1 L1734.8,1231.2 L1735.5,1228.9 L1736.3,1234.5 L1737.1,1233.3 L1737.8,1234.6 L1738.6,1235.4 L1739.3,1233.0 L1740.1,1236.6 L1740.9,1234.0 L1741.6,1235.4 L1742.4,1232.2 L1743.1,1231.7 L1743.9,1231.2 L1744.7,1235.5 L1745.4,1229.5 L1746.2,1233.9 L1746.9,1235.3 L1747.7,1233.6 L1748.5,1235.9 L1749.2,1232.3 L1750.0,1234.7 L1750.7,1229.7 L1751.5,1231.3 L1752.3,1228.2 L1753.0,1224.7 L1753.8,1223.5 L1754.5,1226.1 L1755.3,1229.0 L1756.1,1229.2 L1756.8,1231.6 L1757.6,1229.2 L1758.3,1234.5 L1759.1,1230.9 L1759.9,1229.3 L1760.6,1233.4 L1761.4,1233.4 L1762.1,1230.1 L1762.9,1229.0 L1763.7,1231.1 L1764.4,1227.5 L1765.2,1232.0 L1765.9,1227.9 L1766.7,1230.9 L1767.5,1231.6 L1768.2,1234.2 L1769.0,1228.2 L1769.7,1232.4 L1770.5,1232.0 L1771.3,1232.4 L1772.0,1231.1 L1772.8,1230.2 L1773.5,1232.0 L1774.3,1233.3 L1775.1,1237.4 L1775.8,1235.6 L1776.6,1235.9 L1777.3,1237.5 L1778.1,1232.6 L1778.9,1236.7 L1779.6,1236.4 L1780.4,1236.0 L1781.1,1233.2 L1781.9,1230.7 L1782.7,1230.5 L1783.4,1232.1 L1784.2,1231.8 L1784.9,1233.1 L1785.7,1232.5 L1786.5,1230.9 L1787.2,1230.5 L1788.0,1232.5 L1788.7,1233.0 L1789.5,1236.7 L1790.3,1236.8 L1791.0,1237.5 L1791.8,1236.2 L1792.5,1242.2 L1793.3,1239.0 L1794.1,1245.8 L1794.8,1244.8 L1795.6,1238.8 L1796.3,1240.7 L1797.1,1237.6 L1797.9,1238.8 L1798.6,1239.3 L1799.4,1237.0 L1800.1,1235.2 L1800.9,1239.4 L1801.7,1240.8 L1802.4,1241.2 L1803.2,1240.6 L1803.9,1242.9 L1804.7,1243.3 L1805.5,1241.3 L1806.2,1244.5 L1807.0,1239.5 L1807.7,1237.2 L1808.5,1237.5 L1809.3,1233.0 L1810.0,1235.3 L1810.8,1237.4 L1811.5,1232.8 L1812.3,1234.8 L1813.1,1236.0 L1813.8,1231.3 L1814.6,1238.1 L1815.3,1233.1 L1816.1,1235.1 L1816.9,1237.3 L1817.6,1237.4 L1818.4,1240.3 L1819.1,1239.7 L1819.9,1241.3 L1820.7,1241.0 L1821.4,1242.7 L1822.2,1234.9 L1822.9,1238.4 L1823.7,1236.3 L1824.5,1233.9 L1825.2,1232.7 L1826.0,1232.3 L1826.7,1233.6 L1827.5,1229.4 L1828.3,1229.4 L1829.0,1230.1 L1829.8,1227.3 L1830.5,1232.5 L1831.3,1234.5 L1832.1,1229.3 L1832.8,1233.4 L1833.6,1231.0 L1834.3,1233.2 L1835.1,1232.2 L1835.9,1236.4 L1836.6,1231.6 L1837.4,1233.4 L1838.1,1232.6 L1838.9,1228.5 L1839.7,1226.2 L1840.4,1230.5 L1841.2,1232.0 L1841.9,1229.5 L1842.7,1230.2 L1843.5,1234.1 L1844.2,1234.2 L1845.0,1234.9 L1845.7,1232.8 L1846.5,1230.0 L1847.3,1228.7 L1848.0,1226.4 L1848.8,1229.5 L1849.5,1233.2 L1850.3,1229.8 L1851.1,1228.3 L1851.8,1225.3 L1852.6,1228.0 L1853.3,1230.7 L1854.1,1231.4 L1854.9,1234.7 L1855.6,1234.0 L1856.4,1236.9 L1857.1,1236.4 L1857.9,1236.7 L1858.7,1239.8 L1859.4,1236.7 L1860.2,1238.6 L1860.9,1237.0 L1861.7,1240.6 L1862.5,1242.9 L1863.2,1241.7 L1864.0,1241.1 L1864.7,1240.9 L1865.5,1239.4 L1866.3,1239.3 L1867.0,1237.8 L1867.8,1234.3 L1868.5,1236.8 L1869.3,1236.7 L1870.1,1232.9 L1870.8,1234.6 L1871.6,1235.9 L1872.3,1232.9 L1873.1,1230.6 L1873.9,1232.7 L1874.6,1235.3 L1875.4,1229.9 L1876.1,1230.9 L1876.9,1228.7 L1877.7,1228.9 L1878.4,1229.5 L1879.2,1231.2 L1879.9,1226.8 L1880.7,1226.7 L1881.5,1226.7 L1882.2,1226.2 L1883.0,1225.3 L1883.7,1226.6 L1884.5,1229.0 L1885.3,1229.2 L1886.0,1231.5 L1886.8,1227.3 L1887.5,1227.2 L1888.3,1227.7 L1889.1,1230.2 L1889.8,1229.9 L1890.6,1232.3 L1891.3,1229.6 L1892.1,1233.6 L1892.9,1234.2 L1893.6,1232.4 L1894.4,1232.2 L1895.1,1234.4 L1895.9,1232.8 L1896.7,1238.7 L1897.4,1236.4 L1898.2,1240.0 L1898.9,1238.3 L1899.7,1239.0 L1900.5,1244.8 L1901.2,1243.8 L1902.0,1241.2 L1902.7,1241.4 L1903.5,1241.1 L1904.3,1242.5 L1905.0,1243.8 L1905.8,1238.4 L1906.5,1241.5 L1907.3,1238.6 L1908.1,1239.2 L1908.8,1240.8 L1909.6,1238.9 L1910.3,1246.2 L1911.1,1246.6 L1911.9,1245.1 L1912.6,1245.5 L1913.4,1242.5 L1914.1,1247.9 L1914.9,1242.7 L1915.7,1241.2 L1916.4,1242.6 L1917.2,1239.8 L1917.9,1236.9 L1918.7,1237.0 L1919.5,1235.4 L1920.2,1235.1 L1921.0,1235.5 L1921.7,1235.4 L1922.5,1236.7 L1923.3,1234.0 L1924.0,1235.8 L1924.8,1237.0 L1925.5,1230.4 L1926.3,1233.8 L1927.1,1229.9 L1927.8,1229.0 L1928.6,1236.5 L1929.3,1237.0 L1930.1,1236.9 L1930.9,1235.5 L1931.6,1240.8 L1932.4,1236.7 L1933.1,1240.7 L1933.9,1242.0 L1934.7,1243.2 L1935.4,1237.4 L1936.2,1236.0 L1936.9,1239.7 L1937.7,1239.8 L1938.5,1239.5 L1939.2,1237.0 L1940.0,1238.1 L1940.7,1235.0 L1941.5,1239.4 L1942.3,1241.7 L1943.0,1239.5 L1943.8,1238.3 L1944.5,1243.1 L1945.3,1244.6 L1946.1,1246.4 L1946.8,1250.3 L1947.6,1248.9 L1948.3,1253.6 L1949.1,1250.7 L1949.9,1248.5 L1950.6,1253.3 L1951.4,1251.8 L1952.1,1252.2 L1952.9,1254.3 L1953.7,1254.1 L1954.4,1252.0 L1955.2,1255.3 L1955.9,1260.5 L1956.7,1260.6 L1957.5,1262.8 L1958.2,1264.6 L1959.0,1265.3 L1959.7,1259.9 L1960.5,1259.3 L1961.3,1258.5 L1962.0,1258.9 L1962.8,1258.0 L1963.5,1259.7 L1964.3,1259.5 L1965.1,1261.7 L1965.8,1259.0 L1966.6,1261.1 L1967.3,1262.4 L1968.1,1263.2 L1968.9,1257.5 L1969.6,1259.5 L1970.4,1260.0 L1971.1,1256.3 L1971.9,1261.3 L1972.7,1262.1 L1973.4,1254.7 L1974.2,1255.2 L1974.9,1259.9 L1975.7,1259.8 L1976.5,1254.6 L1977.2,1254.6 L1978.0,1257.4 L1978.7,1255.3 L1979.5,1254.4 L1980.3,1259.0 L1981.0,1256.5 L1981.8,1251.8 L1982.5,1256.1 L1983.3,1252.2 L1984.1,1256.2 L1984.8,1256.7 L1985.6,1255.4 L1986.3,1255.7 L1987.1,1257.3 L1987.9,1254.3 L1988.6,1252.0 L1989.4,1250.4 L1990.1,1252.7 L1990.9,1250.2 L1991.7,1249.7 L1992.4,1252.2 L1993.2,1249.9 L1993.9,1251.1 L1994.7,1254.9 L1995.5,1252.8 L1996.2,1253.5 L1997.0,1254.3 L1997.7,1251.4 L1998.5,1258.0 L1999.3,1259.2 L2000.0,1260.6 L2000.8,1262.8 L2001.5,1258.2 L2002.3,1266.1 L2003.1,1261.8 L2003.8,1258.9 L2004.6,1261.9 L2005.3,1258.7 L2006.1,1260.8 L2006.9,1262.1 L2007.6,1259.1 L2008.4,1264.3 L2009.1,1263.7 L2009.9,1264.5 L2010.7,1265.1 L2011.4,1266.3 L2012.2,1267.9 L2012.9,1268.0 L2013.7,1268.0 L2014.5,1265.2 L2015.2,1266.2 L2016.0,1263.7 L2016.7,1260.6 L2017.5,1262.4 L2018.3,1259.3 L2019.0,1261.7 L2019.8,1258.2 L2020.5,1257.2 L2021.3,1258.7 L2022.1,1257.1 L2022.8,1258.2 L2023.6,1261.5 L2024.3,1257.4 L2025.1,1258.7 L2025.9,1259.7 L2026.6,1260.6 L2027.4,1258.1 L2028.1,1254.0 L2028.9,1253.9 L2029.7,1258.4 L2030.4,1254.7 L2031.2,1251.9 L2031.9,1251.3 L2032.7,1255.9 L2033.5,1253.8 L2034.2,1247.2 L2035.0,1249.9 L2035.7,1252.6 L2036.5,1250.4 L2037.3,1252.9 L2038.0,1254.3 L2038.8,1251.0 L2039.5,1251.6 L2040.3,1251.0 L2041.1,1253.8 L2041.8,1256.9 L2042.6,1258.0 L2043.3,1255.5 L2044.1,1260.4 L2044.9,1259.5 L2045.6,1263.9 L2046.4,1260.3 L2047.1,1260.6 L2047.9,1256.9 L2048.7,1255.9 L2049.4,1255.8 L2050.2,1255.1 L2050.9,1259.0 L2051.7,1254.3 L2052.5,1258.7 L2053.2,1256.9 L2054.0,1260.3 L2054.7,1255.5 L2055.5,1262.2 L2056.3,1259.4 L2057.0,1256.6 L2057.8,1259.4 L2058.5,1256.9 L2059.3,1257.4 L2060.1,1260.0 L2060.8,1256.2 L2061.6,1258.1 L2062.3,1261.5 L2063.1,1263.6 L2063.9,1262.0 L2064.6,1263.1 L2065.4,1266.7 L2066.1,1265.9 L2066.9,1265.7 L2067.7,1261.2 L2068.4,1257.3 L2069.2,1261.1 L2069.9,1260.0 L2070.7,1254.5 L2071.5,1258.2 L2072.2,1259.0 L2073.0,1259.8 L2073.7,1258.9 L2074.5,1260.4 L2075.3,1261.6 L2076.0,1257.0 L2076.8,1262.2 L2077.5,1259.7 L2078.3,1262.5 L2079.1,1258.7 L2079.8,1255.8 L2080.6,1260.1 L2081.3,1260.2 L2082.1,1252.4 L2082.9,1252.8 L2083.6,1254.8 L2084.4,1252.3 L2085.1,1256.0 L2085.9,1252.7 L2086.7,1253.3 L2087.4,1254.5 L2088.2,1250.2 L2088.9,1253.2 L2089.7,1257.9 L2090.5,1254.6 L2091.2,1251.7 L2092.0,1256.6 L2092.7,1260.5 L2093.5,1260.2 L2094.3,1258.1 L2095.0,1259.6 L2095.8,1261.5 L2096.5,1260.3 L2097.3,1261.9 L2098.1,1259.3 L2098.8,1258.9 L2099.6,1260.5 L2100.3,1257.8 L2101.1,1259.2 L2101.9,1264.2 L2102.6,1261.5 L2103.4,1263.8 L2104.1,1262.8 L2104.9,1263.5 L2105.7,1260.2 L2106.4,1262.2 L2107.2,1263.3 L2107.9,1263.2 L2108.7,1262.7 L2109.5,1261.9 L2110.2,1259.3 L2111.0,1259.4 L2111.7,1255.7 L2112.5,1257.1 L2113.3,1253.4 L2114.0,1251.6 L2114.8,1250.2 L2115.5,1250.9 L2116.3,1251.9 L2117.1,1255.0 L2117.8,1250.2 L2118.6,1254.8 L2119.3,1252.9 L2120.1,1251.5 L2120.9,1250.2 L2121.6,1253.7 L2122.4,1249.0 L2123.1,1252.5 L2123.9,1253.0 L2124.7,1252.5 L2125.4,1255.7 L2126.2,1254.9 L2126.9,1258.3 L2127.7,1257.6 L2128.5,1261.4 L2129.2,1262.1 L2130.0,1259.0 L2130.7,1259.3 L2131.5,1257.4 L2132.3,1256.2 L2133.0,1256.1 L2133.8,1255.6 L2134.5,1251.5 L2135.3,1251.6 L2136.1,1254.8 L2136.8,1248.8 L2137.6,1254.9 L2138.3,1249.3 L2139.1,1251.7 L2139.9,1252.4 L2140.6,1249.2 L2141.4,1252.1 L2142.1,1246.3 L2142.9,1250.3 L2143.7,1248.0 L2144.4,1247.0 L2145.2,1250.5 L2145.9,1252.1 L2146.7,1250.9 L2147.5,1258.0 L2148.2,1259.5 L2149.0,1260.0 L2149.7,1260.0 L2150.5,1261.5 L2151.3,1261.1 L2152.0,1258.5 L2152.8,1253.6 L2153.5,1255.5 L2154.3,1256.2 L2155.1,1252.5 L2155.8,1251.4 L2156.6,1254.2 L2157.3,1254.5 L2158.1,1255.8 L2158.9,1257.8 L2159.6,1251.7 L2160.4,1256.9 L2161.1,1256.6 L2161.9,1257.1 L2162.7,1258.1 L2163.4,1260.2 L2164.2,1259.7 L2164.9,1258.3 L2165.7,1257.2 L2166.5,1256.7 L2167.2,1255.6 L2168.0,1257.7 L2168.7,1250.2 L2169.5,1250.2 L2170.3,1255.0 L2171.0,1254.0 L2171.8,1255.3 L2172.5,1257.4 L2173.3,1252.1 L2174.1,1259.8 L2174.8,1255.5 L2175.6,1256.4 L2176.3,1260.4 L2177.1,1256.4 L2177.9,1259.5 L2178.6,1260.6 L2179.4,1256.4 L2180.1,1256.6 L2180.9,1259.3 L2181.7,1259.4 L2182.4,1257.9 L2183.2,1254.4 L2183.9,1260.4 L2184.7,1258.2 L2185.5,1252.9 L2186.2,1255.4 L2187.0,1254.6 L2187.7,1254.6 L2188.5,1256.8 L2189.3,1255.2"/>
<path id="red" stroke="#f00" stroke-width="9" d="M212.5,240.2 L213.3,241.0 L214.0,234.2 L214.8,257.3 L215.5,248.2 L216.3,259.5 L217.1,272.2 L217.8,268.4 L218.6,267.0 L219.3,264.8 L220.1,268.4 L220.9,273.0 L221.6,261.2 L222.4,253.0 L223.1,257.0 L223.9,248.9 L224.7,252.3 L225.4,264.3 L226.2,262.5 L226.9,273.4 L227.7,276.9 L228.5,287.3 L229.2,291.5 L230.0,285.7 L230.7,289.4 L231.5,289.5 L232.3,287.8 L233.0,285.1 L233.8,283.5 L234.5,288.8 L235.3,287.8 L236.1,300.9 L236.8,285.7 L237.6,299.5 L238.3,304.2 L239.1,311.9 L239.9,312.0 L240.6,306.2 L241.4,310.3 L242.1,313.8 L242.9,309.6 L243.7,316.0 L244.4,304.2 L245.2,321.8 L245.9,320.2 L246.7,312.9 L247.5,317.2 L248.2,315.0 L249.0,316.6 L249.7,333.7 L250.5,352.2 L251.3,351.5 L252.0,351.6 L252.8,352.3 L253.5,355.2 L254.3,358.4 L255.1,349.6 L255.8,354.2 L256.6,352.3 L257.3,341.6 L258.1,346.8 L258.9,348.1 L259.6,347.8 L260.4,352.2 L261.1,343.6 L261.9,356.1 L262.7,354.5 L263.4,354.1 L264.2,366.9 L264.9,371.2 L265.7,367.9 L266.5,376.1 L267.2,366.0 L268.0,364.7 L268.7,355.5 L269.5,364.5 L270.3,344.2 L271.0,349.6 L271.8,349.1 L272.5,332.0 L273.3,336.6 L274.1,334.4 L274.8,346.1 L275.6,353.8 L276.3,353.4 L277.1,356.2 L277.9,372.4 L278.6,369.8 L279.4,361.1 L280.1,364.3 L280.9,363.6 L281.7,363.0 L282.4,360.0 L283.2,365.4 L283.9,349.7 L284.7,363.3 L285.5,359.0 L286.2,356.1 L287.0,363.8 L287.7,348.8 L288.5,363.4 L289.3,360.2 L290.0,352.5 L290.8,359.9 L291.5,355.3 L292.3,364.8 L293.1,363.3 L293.8,356.3 L294.6,348.7 L295.3,349.4 L296.1,350.2 L296.9,350.3 L297.6,351.5 L298.4,355.7 L299.1,359.0 L299.9,360.1 L300.7,362.1 L301.4,363.9 L302.2,378.6 L302.9,360.4 L303.7,361.8 L304.5,367.7 L305.2,362.9 L306.0,364.7 L306.7,366.3 L307.5,366.1 L308.3,362.3 L309.0,352.9 L309.8,365.9 L310.5,363.5 L311.3,381.8 L312.1,389.9 L312.8,397.6 L313.6,404.5 L314.3,400.5 L315.1,406.0 L315.9,393.5 L316.6,402.8 L317.4,399.9 L318.1,396.6 L318.9,387.5 L319.7,391.9 L320.4,384.2 L321.2,381.8 L321.9,398.9 L322.7,392.8 L323.5,398.7 L324.2,392.7 L325.0,401.3 L325.7,405.7 L326.5,410.1 L327.3,411.4 L328.0,414.1 L328.8,405.1 L329.5,414.0 L330.3,410.7 L331.1,410.7 L331.8,400.7 L332.6,406.8 L333.3,397.3 L334.1,395.3 L334.9,408.3 L335.6,404.4 L336.4,403.6 L337.1,412.4 L337.9,417.1 L338.7,415.2 L339.4,414.9 L340.2,420.1 L340.9,413.0 L341.7,414.9 L342.5,395.4 L343.2,405.7 L344.0,405.8 L344.7,401.4 L345.5,399.9 L346.3,405.6 L347.0,402.4 L347.8,402.6 L348.5,410.9 L349.3,412.4 L350.1,408.4 L350.8,404.9 L351.6,410.0 L352.3,412.3 L353.1,412.2 L353.9,403.5 L354.6,409.6 L355.4,415.4 L356.1,420.7 L356.9,425.5 L357.7,428.8 L358.4,422.7 L359.2,427.8 L359.9,428.5 L360.7,446.6 L361.5,441.2 L362.2,442.6 L363.0,444.1 L363.7,437.0 L364.5,432.8 L365.3,435.3 L366.0,436.7 L366.8,444.8 L367.5,442.1 L368.3,432.1 L369.1,441.0 L369.8,441.6 L370.6,434.0 L371.3,441.3 L372.1,436.2 L372.9,449.4 L373.6,449.7 L374.4,447.6 L375.1,450.9 L375.9,455.4 L376.7,452.4 L377.4,455.2 L378.2,456.7 L378.9,450.1 L379.7,452.8 L380.5,463.8 L381.2,454.6 L382.0,449.9 L382.7,455.3 L383.5,447.9 L384.3,460.9 L385.0,460.4 L385.8,466.7 L386.5,468.9 L387.3,468.9 L388.1,474.9 L388.8,473.4 L389.6,472.0 L390.3,472.7 L391.1,474.6 L391.9,466.3 L392.6,483.9 L393.4,465.4 L394.1,472.8 L394.9,466.5 L395.7,462.5 L396.4,471.8 L397.2,470.7 L397.9,470.8 L398.7,474.4 L399.5,470.3 L400.2,476.6 L401.0,480.0 L401.7,477.7 L402.5,480.2 L403.3,486.5 L404.0,485.8 L404.8,487.6 L405.5,475.2 L406.3,483.6 L407.1,483.7 L407.8,480.4 L408.6,480.2 L409.3,485.7 L410.1,474.0 L410.9,474.4 L411.6,468.0 L412.4,469.1 L413.1,472.5 L413.9,470.9 L414.7,476.4 L415.4,472.9 L416.2,478.3 L416.9,472.8 L417.7,472.6 L418.5,477.3 L419.2,474.2 L420.0,476.3 L420.7,476.6 L421.5,478.5 L422.3,485.5 L423.0,488.5 L423.8,484.8 L424.5,479.6 L425.3,487.3 L426.1,471.6 L426.8,468.0 L427.6,478.7 L428.3,477.0 L429.1,474.7 L429.9,475.6 L430.6,466.5 L431.4,468.7 L432.1,479.2 L432.9,478.6 L433.7,472.1 L434.4,485.4 L435.2,470.0 L435.9,473.0 L436.7,477.8 L437.5,470.4 L438.2,473.6 L439.0,475.2 L439.7,473.3 L440.5,478.7 L441.3,476.5 L442.0,468.3 L442.8,470.7 L443.5,473.5 L444.3,471.6 L445.1,468.1 L445.8,473.4 L446.6,475.2 L447.3,469.0 L448.1,475.7 L448.9,464.7 L449.6,465.9 L450.4,476.7 L451.1,471.8 L451.9,472.5 L452.7,475.9 L453.4,475.7 L454.2,480.5 L454.9,471.7 L455.7,477.2 L456.5,489.8 L457.2,482.2 L458.0,473.3 L458.7,485.7 L459.5,485.6 L460.3,489.9 L461.0,483.7 L461.8,479.6 L462.5,489.9 L463.3,488.4 L464.1,476.5 L464.8,489.5 L465.6,485.4 L466.3,491.9 L467.1,486.1 L467.9,493.2 L468.6,491.9 L469.4,495.8 L470.1,493.0 L470.9,490.0 L471.7,492.7 L472.4,494.0 L473.2,493.7 L473.9,500.5 L474.7,494.2 L475.5,494.9 L476.2,500.5 L477.0,491.5 L477.7,494.7 L478.5,488.5 L479.3,490.7 L480.0,498.9 L480.8,492.6 L481.5,498.7 L482.3,488.6 L483.1,488.1 L483.8,498.5 L484.6,491.8 L485.3,508.4 L486.1,507.3 L486.9,497.1 L487.6,503.4 L488.4,502.8 L489.1,507.6 L489.9,504.7 L490.7,509.0 L491.4,511.2 L492.2,503.2 L492.9,499.2 L493.7,507.2 L494.5,503.9 L495.2,511.0 L496.0,506.4 L496.7,513.5 L497.5,513.5 L498.3,514.6 L499.0,512.2 L499.8,514.6 L500.5,518.0 L501.3,510.8 L502.1,504.3 L502.8,506.3 L503.6,500.7 L504.3,491.7 L505.1,497.3 L505.9,500.9 L506.6,490.3 L507.4,485.1 L508.1,492.9 L508.9,500.5 L509.7,497.2 L510.4,499.3 L511.2,505.5 L511.9,503.7 L512.7,500.1 L513.5,496.4 L514.2,498.8 L515.0,499.8 L515.7,506.3 L516.5,499.5 L517.3,513.4 L518.0,507.7 L518.8,506.9 L519.5,515.2 L520.3,503.6 L521.1,510.1 L521.8,513.8 L522.6,518.8 L523.3,510.8 L524.1,516.7 L524.9,505.6 L525.6,508.3 L526.4,499.7 L527.1,506.5 L527.9,499.0 L528.7,503.4 L529.4,498.4 L530.2,496.2 L530.9,499.8 L531.7,507.6 L532.5,498.2 L533.2,496.3 L534.0,502.6 L534.7,507.6 L535.5,498.9 L536.3,500.2 L537.0,501.2 L537.8,496.0 L538.5,497.4 L539.3,499.4 L540.1,490.1 L540.8,486.3 L541.6,487.6 L542.3,484.7 L543.1,482.0 L543.9,484.5 L544.6,486.3 L545.4,503.0 L546.1,495.4 L546.9,499.8 L547.7,502.8 L548.4,492.1 L549.2,496.9 L549.9,488.2 L550.7,477.6 L551.5,482.2 L552.2,474.0 L553.0,474.0 L553.7,473.7 L554.5,481.3 L555.3,469.2 L556.0,473.0 L556.8,476.3 L557.5,476.3 L558.3,477.3 L559.1,474.6 L559.8,477.3 L560.6,482.5 L561.3,476.7 L562.1,477.7 L562.9,472.6 L563.6,480.5 L564.4,466.4 L565.1,481.7 L565.9,467.8 L566.7,463.9 L567.4,462.0 L568.2,470.0 L568.9,470.5 L569.7,461.0 L570.5,465.4 L571.2,463.2 L572.0,462.1 L572.7,462.2 L573.5,464.6 L574.3,450.7 L575.0,449.1 L575.8,458.5 L576.5,455.1 L577.3,457.2 L578.1,445.5 L578.8,447.5 L579.6,458.1 L580.3,443.9 L581.1,449.7 L581.9,443.6 L582.6,444.6 L583.4,439.4 L584.1,450.8 L584.9,435.4 L585.7,438.0 L586.4,438.6 L587.2,447.4 L587.9,442.4 L588.7,443.8 L589.5,439.3 L590.2,438.7 L591.0,439.1 L591.7,443.0 L592.5,435.5 L593.3,426.9 L594.0,438.9 L594.8,433.8 L595.5,426.7 L596.3,429.9 L597.1,426.6 L597.8,440.6 L598.6,429.3 L599.3,421.4 L600.1,432.6 L600.9,426.7 L601.6,436.1 L602.4,428.7 L603.1,419.5 L603.9,424.6 L604.7,420.4 L605.4,421.1 L606.2,421.1 L606.9,413.9 L607.7,423.1 L608.5,416.9 L609.2,414.8 L610.0,423.3 L610.7,428.3 L611.5,416.4 L612.3,427.5 L613.0,409.3 L613.8,420.5 L614.5,414.8 L615.3,417.3 L616.1,413.0 L616.8,415.5 L617.6,417.5 L618.3,416.4 L619.1,418.5 L619.9,423.8 L620.6,409.3 L621.4,410.0 L622.1,400.6 L622.9,397.3 L623.7,411.8 L624.4,397.1 L625.2,399.4 L625.9,403.8 L626.7,408.7 L627.5,406.3 L628.2,413.2 L629.0,403.1 L629.7,395.9 L630.5,406.2 L631.3,406.7 L632.0,401.6 L632.8,402.7 L633.5,400.0 L634.3,409.6 L635.1,397.7 L635.8,394.4 L636.6,402.5 L637.3,392.2 L638.1,402.3 L638.9,401.0 L639.6,393.6 L640.4,394.1 L641.1,395.0 L641.9,406.4 L642.7,400.7 L643.4,394.0 L644.2,394.0 L644.9,399.5 L645.7,398.7 L646.5,395.0 L647.2,399.6 L648.0,397.6 L648.7,403.9 L649.5,401.0 L650.3,401.7 L651.0,404.5 L651.8,401.4 L652.5,411.6 L653.3,412.3 L654.1,408.6 L654.8,410.5 L655.6,406.5 L656.3,416.4 L657.1,402.3 L657.9,402.5 L658.6,398.5 L659.4,389.4 L660.1,389.1 L660.9,384.0 L661.7,382.8 L662.4,379.5 L663.2,377.3 L663.9,374.8 L664.7,368.6 L665.5,370.5 L666.2,372.1 L667.0,373.4 L667.7,373.1 L668.5,387.1 L669.3,385.6 L670.0,385.6 L670.8,378.9 L671.5,379.0 L672.3,376.4 L673.1,385.7 L673.8,389.4 L674.6,389.0 L675.3,385.7 L676.1,380.0 L676.9,385.9 L677.6,387.5 L678.4,393.6 L679.1,396.6 L679.9,394.0 L680.7,397.6 L681.4,401.2 L682.2,398.6 L682.9,393.6 L683.7,384.8 L684.5,389.1 L685.2,394.6 L686.0,389.1 L686.7,392.1 L687.5,388.2 L688.3,391.4 L689.0,395.2 L689.8,395.9 L690.5,396.4 L691.3,400.1 L692.1,403.4 L692.8,404.9 L693.6,394.9 L694.3,404.7 L695.1,410.0 L695.9,415.8 L696.6,415.2 L697.4,429.5 L698.1,419.2 L698.9,424.3 L699.7,414.8 L700.4,422.0 L701.2,422.6 L701.9,420.1 L702.7,427.8 L703.5,432.9 L704.2,420.2 L705.0,422.5 L705.7,434.9 L706.5,431.1 L707.3,427.9 L708.0,425.5 L708.8,435.7 L709.5,435.0 L710.3,443.5 L711.1,433.7 L711.8,438.8 L712.6,439.8 L713.3,443.0 L714.1,450.9 L714.9,450.3 L715.6,443.9 L716.4,448.5 L717.1,449.0 L717.9,455.9 L718.7,452.7 L719.4,449.8 L720.2,454.1 L720.9,455.1 L721.7,456.4 L722.5,455.9 L723.2,452.5 L724.0,445.6 L724.7,440.3 L725.5,444.0 L726.3,439.4 L727.0,436.2 L727.8,439.3 L728.5,439.4 L729.3,440.9 L730.1,431.2 L730.8,427.5 L731.6,435.9 L732.3,426.3 L733.1,431.9 L733.9,418.7 L734.6,417.0 L735.4,407.7 L736.1,422.3 L736.9,409.6 L737.7,411.7 L738.4,408.2 L739.2,409.0 L739.9,413.3 L740.7,409.2 L741.5,407.6 L742.2,412.7 L743.0,400.4 L743.7,408.8 L744.5,408.9 L745.3,391.5 L746.0,396.3 L746.8,386.1 L747.5,380.1 L748.3,382.7 L749.1,388.0 L749.8,389.6 L750.6,383.1 L751.3,380.2 L752.1,380.7 L752.9,378.3 L753.6,379.1 L754.4,371.6 L755.1,381.0 L755.9,381.6 L756.7,392.6 L757.4,380.9 L758.2,373.8 L758.9,372.0 L759.7,371.8 L760.5,364.1 L761.2,353.3 L762.0,357.7 L762.7,357.9 L763.5,361.8 L764.3,360.2 L765.0,363.4 L765.8,370.2 L766.5,376.2 L767.3,381.6 L768.1,379.5 L768.8,382.5 L769.6,370.1 L770.3,377.0 L771.1,369.1 L771.9,358.3 L772.6,360.5 L773.4,358.9 L774.1,348.8 L774.9,356.6 L775.7,349.2 L776.4,353.3 L777.2,343.9 L777.9,349.8 L778.7,350.3 L779.5,341.4 L780.2,342.0 L781.0,339.7 L781.7,344.3 L782.5,341.9 L783.3,343.8 L784.0,339.2 L784.8,331.8 L785.5,331.0 L786.3,335.5 L787.1,340.3 L787.8,348.6 L788.6,339.7 L789.3,329.7 L790.1,321.1 L790.9,333.6 L791.6,330.6 L792.4,322.8 L793.1,333.9 L793.9,327.0 L794.7,321.8 L795.4,310.8 L796.2,325.8 L796.9,319.9 L797.7,317.3 L798.5,312.1 L799.2,313.3 L800.0,320.8 L800.7,315.7 L801.5,325.2 L802.3,322.4 L803.0,319.2 L803.8,323.3 L804.5,319.3 L805.3,310.4 L806.1,316.3 L806.8,322.6 L807.6,316.1 L808.3,318.8 L809.1,313.9 L809.9,329.9 L810.6,311.8 L811.4,313.3 L812.1,315.2 L812.9,327.2 L813.7,327.3 L814.4,312.1 L815.2,312.7 L815.9,298.1 L816.7,298.8 L817.5,304.1 L818.2,306.8 L819.0,313.5 L819.7,319.2 L820.5,334.6 L821.3,325.9 L822.0,319.6 L822.8,330.7 L823.5,328.1 L824.3,321.9 L825.1,323.5 L825.8,304.7 L826.6,320.4 L827.3,306.0 L828.1,315.6 L828.9,318.7 L829.6,324.5 L830.4,331.8 L831.1,324.2 L831.9,322.2 L832.7,319.5 L833.4,329.6 L834.2,325.6 L834.9,324.2 L835.7,332.7 L836.5,339.2 L837.2,334.7 L838.0,332.3 L838.7,340.7 L839.5,334.9 L840.3,334.3 L841.0,351.2 L841.8,344.4 L842.5,356.0 L843.3,337.3 L844.1,351.4 L844.8,346.2 L845.6,359.5 L846.3,348.3 L847.1,347.4 L847.9,353.5 L848.6,354.0 L849.4,350.7 L850.1,359.2 L850.9,358.6 L851.7,360.9 L852.4,360.1 L853.2,355.2 L853.9,355.7 L854.7,364.4 L855.5,357.1 L856.2,373.2 L857.0,366.5 L857.7,362.9 L858.5,373.8 L859.3,369.6 L860.0,377.0 L860.8,373.5 L861.5,385.9 L862.3,376.6 L863.1,371.0 L863.8,374.8 L864.6,375.7 L865.3,390.2 L866.1,400.1 L866.9,391.0 L867.6,386.6 L868.4,400.7 L869.1,400.8 L869.9,398.4 L870.7,405.1 L871.4,405.4 L872.2,400.9 L872.9,412.0 L873.7,406.1 L874.5,404.0 L875.2,409.2 L876.0,420.2 L876.7,424.2 L877.5,423.0 L878.3,414.8 L879.0,413.4 L879.8,422.4 L880.5,422.9 L881.3,426.7 L882.1,423.4 L882.8,425.6 L883.6,426.7 L884.3,438.4 L885.1,442.1 L885.9,437.2 L886.6,446.6 L887.4,451.3 L888.1,447.9 L888.9,454.6 L889.7,461.3 L890.4,456.1 L891.2,470.0 L891.9,466.0 L892.7,470.3 L893.5,471.4 L894.2,468.2 L895.0,477.6 L895.7,478.2 L896.5,478.1 L897.3,481.0 L898.0,487.6 L898.8,485.9 L899.5,486.6 L900.3,491.2 L901.1,495.7 L901.8,492.8 L902.6,490.6 L903.3,499.9 L904.1,496.4 L904.9,502.9 L905.6,501.0 L906.4,500.4 L907.1,501.0 L907.9,505.6 L908.7,511.7 L909.4,508.3 L910.2,522.9 L910.9,529.3 L911.7,527.2 L912.5,525.9 L913.2,525.1 L914.0,535.0 L914.7,536.9 L915.5,536.8 L916.3,540.4 L917.0,535.6 L917.8,538.5 L918.5,542.6 L919.3,541.8 L920.1,546.7 L920.8,549.7 L921.6,549.1 L922.3,548.8 L923.1,552.0 L923.9,563.7 L924.6,555.6 L925.4,563.7 L926.1,560.9 L926.9,575.7 L927.7,565.9 L928.4,573.1 L929.2,568.2 L929.9,584.3 L930.7,571.4 L931.5,581.1 L932.2,575.8 L933.0,588.2 L933.7,581.0 L934.5,587.7 L935.3,585.2 L936.0,593.2 L936.8,596.4 L937.5,606.3 L938.3,592.6 L939.1,606.0 L939.8,605.8 L940.6,604.8 L941.3,609.3 L942.1,614.9 L942.9,614.7 L943.6,616.5 L944.4,615.6 L945.1,619.0 L945.9,623.9 L946.7,620.2 L947.4,624.2 L948.2,629.0 L948.9,631.7 L949.7,633.3 L950.5,632.9 L951.2,626.7 L952.0,641.1 L952.7,644.5 L953.5,647.4 L954.3,645.8 L955.0,650.7 L955.8,648.0 L956.5,645.7 L957.3,652.9 L958.1,653.9 L958.8,660.7 L959.6,661.9 L960.3,657.0 L961.1,659.6 L961.9,663.1 L962.6,666.0 L963.4,674.2 L964.1,669.0 L964.9,679.3 L965.7,670.2 L966.4,676.7 L967.2,687.6 L967.9,683.0 L968.7,683.2 L969.5,685.7 L970.2,683.2 L971.0,685.6 L971.7,687.3 L972.5,688.5 L973.3,690.3 L974.0,687.3 L974.8,692.7 L975.5,689.3 L976.3,697.2 L977.1,696.8 L977.8,701.6 L978.6,704.8 L979.3,702.7 L980.1,705.2 L980.9,708.6 L981.6,712.4 L982.4,716.3 L983.1,713.6 L983.9,712.2 L984.7,717.6 L985.4,717.5 L986.2,722.0 L986.9,725.7 L987.7,729.6 L988.5,714.3 L989.2,721.1 L990.0,723.8 L990.7,727.4 L991.5,727.2 L992.3,725.9 L993.0,729.8 L993.8,726.0 L994.5,728.7 L995.3,733.7 L996.1,728.5 L996.8,740.8 L997.6,731.5 L998.3,732.2 L999.1,740.8 L999.9,731.9 L1000.6,740.2 L1001.4,742.4 L1002.1,749.0 L1002.9,753.6 L1003.7,746.7 L1004.4,741.5 L1005.2,749.7 L1005.9,752.6 L1006.7,746.8 L1007.5,753.0 L1008.2,759.3 L1009.0,754.3 L1009.7,750.2 L1010.5,752.2 L1011.3,748.5 L1012.0,753.4 L1012.8,753.8 L1013.5,761.4 L1014.3,751.5 L1015.1,751.9 L1015.8,758.7 L1016.6,760.7 L1017.3,757.1 L1018.1,760.6 L1018.9,763.9 L1019.6,764.9 L1020.4,764.5 L1021.1,766.3 L1021.9,760.7 L1022.7,770.1 L1023.4,769.2 L1024.2,766.9 L1024.9,769.0 L1025.7,770.6 L1026.5,769.8 L1027.2,772.4 L1028.0,773.2 L1028.7,770.6 L1029.5,783.7 L1030.3,779.5 L1031.0,786.3 L1031.8,779.9 L1032.5,788.2 L1033.3,783.5 L1034.1,791.7 L1034.8,791.0 L1035.6,790.4 L1036.3,788.2 L1037.1,790.5 L1037.9,794.9 L1038.6,784.0 L1039.4,789.3 L1040.1,788.6 L1040.9,790.5 L1041.7,796.1 L1042.4,796.5 L1043.2,792.5 L1043.9,796.6 L1044.7,790.3 L1045.5,790.8 L1046.2,793.4 L1047.0,794.6 L1047.7,791.9 L1048.5,789.0 L1049.3,796.0 L1050.0,801.3 L1050.8,795.9 L1051.5,798.4 L1052.3,794.2 L1053.1,799.2 L1053.8,797.2 L1054.6,802.1 L1055.3,807.9 L1056.1,803.6 L1056.9,798.7 L1057.6,803.8 L1058.4,794.7 L1059.1,805.0 L1059.9,802.6 L1060.7,797.7 L1061.4,799.5 L1062.2,797.2 L1062.9,806.8 L1063.7,802.0 L1064.5,798.1 L1065.2,800.2 L1066.0,804.7 L1066.7,802.9 L1067.5,806.7 L1068.3,808.2 L1069.0,802.5 L1069.8,810.9 L1070.5,815.9 L1071.3,811.9 L1072.1,813.9 L1072.8,810.4 L1073.6,811.1 L1074.3,814.7 L1075.1,811.3 L1075.9,809.5 L1076.6,818.9 L1077.4,815.2 L1078.1,819.3 L1078.9,820.9 L1079.7,823.5 L1080.4,825.6 L1081.2,827.2 L1081.9,826.4 L1082.7,831.3 L1083.5,828.9 L1084.2,831.7 L1085.0,827.4 L1085.7,829.9 L1086.5,825.6 L1087.3,833.0 L1088.0,829.7 L1088.8,825.4 L1089.5,822.5 L1090.3,828.2 L1091.1,837.0 L1091.8,831.5 L1092.6,839.8 L1093.3,837.5 L1094.1,839.5 L1094.9,837.8 L1095.6,841.7 L1096.4,843.3 L1097.1,841.8 L1097.9,840.6 L1098.7,834.3 L1099.4,837.6 L1100.2,832.5 L1100.9,832.9 L1101.7,836.0 L1102.5,830.5 L1103.2,834.9 L1104.0,831.2 L1104.7,836.6 L1105.5,830.3 L1106.3,832.1 L1107.0,833.5 L1107.8,831.0 L1108.5,832.9 L1109.3,828.0 L1110.1,839.8 L1110.8,834.1 L1111.6,840.3 L1112.3,838.4 L1113.1,848.5 L1113.9,852.9 L1114.6,859.5 L1115.4,861.6 L1116.1,868.0 L1116.9,868.2 L1117.7,872.2 L1118.4,877.8 L1119.2,871.2 L1119.9,879.8 L1120.7,881.7 L1121.5,878.7 L1122.2,885.9 L1123.0,895.2 L1123.7,894.7 L1124.5,894.0 L1125.3,901.6 L1126.0,903.2 L1126.8,900.2 L1127.5,907.6 L1128.3,912.5 L1129.1,915.6 L1129.8,920.3 L1130.6,922.2 L1131.3,925.7 L1132.1,927.4 L1132.9,931.3 L1133.6,934.2 L1134.4,940.9 L1135.1,942.1 L1135.9,943.7 L1136.7,951.8 L1137.4,960.1 L1138.2,956.4 L1138.9,964.1 L1139.7,960.3 L1140.5,965.1 L1141.2,970.1 L1142.0,974.0 L1142.7,979.7 L1143.5,974.0 L1144.3,979.8 L1145.0,986.9 L1145.8,989.8 L1146.5,986.5 L1147.3,992.9 L1148.1,999.4 L1148.8,1002.8 L1149.6,998.2 L1150.3,1005.8 L1151.1,999.8 L1151.9,1013.3 L1152.6,1019.0 L1153.4,1012.0 L1154.1,1017.7 L1154.9,1016.4 L1155.7,1022.8 L1156.4,1025.1 L1157.2,1023.4 L1157.9,1020.8 L1158.7,1013.5 L1159.5,1013.9 L1160.2,1022.2 L1161.0,1017.1 L1161.7,1014.9 L1162.5,1017.7 L1163.3,1014.6 L1164.0,1017.6 L1164.8,1014.6 L1165.5,1015.1 L1166.3,1011.7 L1167.1,1023.5 L1167.8,1020.2 L1168.6,1018.8 L1169.3,1019.8 L1170.1,1015.8 L1170.9,1012.3 L1171.6,1016.8 L1172.4,1017.0 L1173.1,1016.2 L1173.9,1012.3 L1174.7,1007.8 L1175.4,1016.0 L1176.2,1015.2 L1176.9,1012.9 L1177.7,1013.3 L1178.5,1014.3 L1179.2,1013.9 L1180.0,1011.7 L1180.7,1017.3 L1181.5,1018.1 L1182.3,1021.6 L1183.0,1020.0 L1183.8,1022.8 L1184.5,1019.5 L1185.3,1026.4 L1186.1,1029.7 L1186.8,1019.4 L1187.6,1019.0 L1188.3,1017.4 L1189.1,1013.9 L1189.9,1015.3 L1190.6,1010.8 L1191.4,1015.2 L1192.1,1024.5 L1192.9,1021.5 L1193.7,1023.3 L1194.4,1030.8 L1195.2,1019.5 L1195.9,1030.0 L1196.7,1029.7 L1197.5,1020.1 L1198.2,1023.5 L1199.0,1027.0 L1199.7,1022.8 L1200.5,1022.4 L1201.3,1026.5 L1202.0,1023.6 L1202.8,1024.3 L1203.5,1022.9 L1204.3,1023.2 L1205.1,1023.0 L1205.8,1029.2 L1206.6,1023.6 L1207.3,1018.9 L1208.1,1022.8 L1208.9,1021.9 L1209.6,1028.2 L1210.4,1016.8 L1211.1,1024.9 L1211.9,1023.9 L1212.7,1029.1 L1213.4,1020.3 L1214.2,1018.6 L1214.9,1024.7 L1215.7,1026.2 L1216.5,1025.6 L1217.2,1026.4 L1218.0,1023.9 L1218.7,1027.2 L1219.5,1025.0 L1220.3,1022.8 L1221.0,1030.4 L1221.8,1023.3 L1222.5,1019.5 L1223.3,1022.3 L1224.1,1021.7 L1224.8,1020.2 L1225.6,1017.4 L1226.3,1018.1 L1227.1,1013.7 L1227.9,1011.6 L1228.6,1020.2 L1229.4,1015.9 L1230.1,1021.4 L1230.9,1019.0 L1231.7,1020.5 L1232.4,1025.7 L1233.2,1015.4 L1233.9,1026.8 L1234.7,1023.4 L1235.5,1026.9 L1236.2,1022.9 L1237.0,1024.8 L1237.7,1024.2 L1238.5,1021.0 L1239.3,1025.6 L1240.0,1032.4 L1240.8,1029.8 L1241.5,1031.1 L1242.3,1026.0 L1243.1,1026.0 L1243.8,1024.6 L1244.6,1019.4 L1245.3,1025.6 L1246.1,1023.4 L1246.9,1027.5 L1247.6,1026.9 L1248.4,1025.7 L1249.1,1020.3 L1249.9,1020.7 L1250.7,1027.5 L1251.4,1023.5 L1252.2,1025.2 L1252.9,1020.1 L1253.7,1024.9 L1254.5,1021.5 L1255.2,1021.3 L1256.0,1023.5 L1256.7,1020.1 L1257.5,1019.9 L1258.3,1029.7 L1259.0,1028.4 L1259.8,1025.4 L1260.5,1027.4 L1261.3,1032.3 L1262.1,1027.0 L1262.8,1021.8 L1263.6,1035.6 L1264.3,1023.4 L1265.1,1026.7 L1265.9,1020.8 L1266.6,1020.3 L1267.4,1028.1 L1268.1,1022.7 L1268.9,1029.8 L1269.7,1026.7 L1270.4,1027.0 L1271.2,1030.2 L1271.9,1030.9 L1272.7,1032.8 L1273.5,1022.9 L1274.2,1025.5 L1275.0,1031.0 L1275.7,1031.1 L1276.5,1025.9 L1277.3,1023.2 L1278.0,1027.1 L1278.8,1020.6 L1279.5,1021.5 L1280.3,1031.3 L1281.1,1023.4 L1281.8,1035.7 L1282.6,1029.5 L1283.3,1029.8 L1284.1,1035.9 L1284.9,1032.7 L1285.6,1028.5 L1286.4,1026.9 L1287.1,1025.6 L1287.9,1020.3 L1288.7,1028.1 L1289.4,1026.6 L1290.2,1023.8 L1290.9,1029.7 L1291.7,1024.5 L1292.5,1019.4 L1293.2,1022.1 L1294.0,1025.2 L1294.7,1027.4 L1295.5,1033.3 L1296.3,1025.0 L1297.0,1028.3 L1297.8,1030.2 L1298.5,1028.4 L1299.3,1027.8 L1300.1,1023.4 L1300.8,1025.9 L1301.6,1035.1 L1302.3,1028.7 L1303.1,1028.6 L1303.9,1025.1 L1304.6,1029.8 L1305.4,1034.9 L1306.1,1026.4 L1306.9,1025.9 L1307.7,1028.7 L1308.4,1027.1 L1309.2,1026.5 L1309.9,1035.6 L1310.7,1031.0 L1311.5,1023.4 L1312.2,1029.7 L1313.0,1033.2 L1313.7,1029.0 L1314.5,1032.4 L1315.3,1026.0 L1316.0,1031.8 L1316.8,1029.2 L1317.5,1031.0 L1318.3,1028.4 L1319.1,1026.2 L1319.8,1028.1 L1320.6,1027.9 L1321.3,1028.7 L1322.1,1020.5 L1322.9,1022.2 L1323.6,1022.3 L1324.4,1021.9 L1325.1,1021.6 L1325.9,1023.5 L1326.7,1027.8 L1327.4,1029.2 L1328.2,1027.2 L1328.9,1025.3 L1329.7,1016.9 L1330.5,1021.1 L1331.2,1025.7 L1332.0,1020.3 L1332.7,1027.4 L1333.5,1020.5 L1334.3,1023.3 L1335.0,1020.9 L1335.8,1023.6 L1336.5,1018.0 L1337.3,1022.8 L1338.1,1022.7 L1338.8,1022.8 L1339.6,1022.1 L1340.3,1032.1 L1341.1,1025.8 L1341.9,1033.1 L1342.6,1031.5 L1343.4,1034.9 L1344.1,1034.0 L1344.9,1034.0 L1345.7,1027.6 L1346.4,1037.6 L1347.2,1032.2 L1347.9,1030.1 L1348.7,1018.6 L1349.5,1021.4 L1350.2,1019.5 L1351.0,1020.2 L1351.7,1017.2 L1352.5,1022.0 L1353.3,1020.1 L1354.0,1023.3 L1354.8,1024.9 L1355.5,1018.4 L1356.3,1019.5 L1357.1,1018.4 L1357.8,1024.7 L1358.6,1021.7 L1359.3,1020.1 L1360.1,1017.7 L1360.9,1023.8 L1361.6,1022.0 L1362.4,1022.6 L1363.1,1021.8 L1363.9,1017.8 L1364.7,1027.8 L1365.4,1023.6 L1366.2,1025.2 L1366.9,1021.9 L1367.7,1028.8 L1368.5,1022.0 L1369.2,1023.6 L1370.0,1022.8 L1370.7,1022.4 L1371.5,1029.5 L1372.3,1025.7 L1373.0,1024.7 L1373.8,1028.1 L1374.5,1027.4 L1375.3,1028.9 L1376.1,1026.6 L1376.8,1029.8 L1377.6,1022.4 L1378.3,1024.8 L1379.1,1030.1 L1379.9,1030.1 L1380.6,1020.5 L1381.4,1027.5 L1382.1,1026.1 L1382.9,1030.6 L1383.7,1022.9 L1384.4,1028.2 L1385.2,1030.3 L1385.9,1023.8 L1386.7,1026.9 L1387.5,1032.5 L1388.2,1028.5 L1389.0,1032.9 L1389.7,1030.9 L1390.5,1026.0 L1391.3,1032.0 L1392.0,1032.7 L1392.8,1030.4 L1393.5,1035.9 L1394.3,1027.1 L1395.1,1031.2 L1395.8,1030.4 L1396.6,1028.1 L1397.3,1025.7 L1398.1,1023.9 L1398.9,1025.5 L1399.6,1029.5 L1400.4,1027.6 L1401.1,1029.4 L1401.9,1029.4 L1402.7,1029.1 L1403.4,1031.5 L1404.2,1033.7 L1404.9,1025.4 L1405.7,1031.4 L1406.5,1025.3 L1407.2,1038.5 L1408.0,1028.2 L1408.7,1030.2 L1409.5,1034.2 L1410.3,1032.0 L1411.0,1033.4 L1411.8,1035.0 L1412.5,1028.6 L1413.3,1036.2 L1414.1,1026.7 L1414.8,1027.5 L1415.6,1031.1 L1416.3,1020.7 L1417.1,1025.0 L1417.9,1026.5 L1418.6,1029.6 L1419.4,1024.1 L1420.1,1029.4 L1420.9,1022.7 L1421.7,1030.0 L1422.4,1028.8 L1423.2,1024.3 L1423.9,1024.5 L1424.7,1025.1 L1425.5,1024.1 L1426.2,1023.4 L1427.0,1029.8 L1427.7,1026.6 L1428.5,1026.4 L1429.3,1018.7 L1430.0,1024.4 L1430.8,1028.2 L1431.5,1025.3 L1432.3,1022.8 L1433.1,1025.1 L1433.8,1028.6 L1434.6,1025.3 L1435.3,1018.6 L1436.1,1022.8 L1436.9,1026.1 L1437.6,1020.0 L1438.4,1025.0 L1439.1,1025.9 L1439.9,1031.1 L1440.7,1028.5 L1441.4,1023.7 L1442.2,1016.5 L1442.9,1024.1 L1443.7,1017.6 L1444.5,1018.9 L1445.2,1025.7 L1446.0,1019.4 L1446.7,1024.8 L1447.5,1023.5 L1448.3,1026.5 L1449.0,1023.4 L1449.8,1024.0 L1450.5,1030.7 L1451.3,1028.0 L1452.1,1026.7 L1452.8,1026.0 L1453.6,1028.2 L1454.3,1026.6 L1455.1,1029.9 L1455.9,1027.1 L1456.6,1022.5 L1457.4,1022.8 L1458.1,1026.5 L1458.9,1035.9 L1459.7,1033.9 L1460.4,1028.0 L1461.2,1027.0 L1461.9,1027.5 L1462.7,1028.8 L1463.5,1033.7 L1464.2,1027.3 L1465.0,1024.1 L1465.7,1028.0 L1466.5,1026.2 L1467.3,1036.3 L1468.0,1030.6 L1468.8,1031.3 L1469.5,1030.9 L1470.3,1023.6 L1471.1,1031.7 L1471.8,1032.2 L1472.6,1028.6 L1473.3,1030.7 L1474.1,1027.6 L1474.9,1028.2 L1475.6,1031.3 L1476.4,1026.8 L1477.1,1029.4 L1477.9,1028.3 L1478.7,1027.3 L1479.4,1025.2 L1480.2,1024.8 L1480.9,1026.8 L1481.7,1030.4 L1482.5,1027.2 L1483.2,1029.4 L1484.0,1024.6 L1484.7,1018.5 L1485.5,1027.5 L1486.3,1023.2 L1487.0,1026.7 L1487.8,1024.2 L1488.5,1024.6 L1489.3,1024.0 L1490.1,1016.5 L1490.8,1027.7 L1491.6,1027.5 L1492.3,1030.3 L1493.1,1031.6 L1493.9,1030.3 L1494.6,1032.7 L1495.4,1026.8 L1496.1,1033.4 L1496.9,1037.1 L1497.7,1037.3 L1498.4,1032.2 L1499.2,1028.0 L1499.9,1032.4 L1500.7,1035.0 L1501.5,1035.9 L1502.2,1040.7 L1503.0,1039.0 L1503.7,1031.8 L1504.5,1036.2 L1505.3,1032.7 L1506.0,1037.0 L1506.8,1032.0 L1507.5,1039.2 L1508.3,1032.9 L1509.1,1033.2 L1509.8,1031.2 L1510.6,1037.7 L1511.3,1035.0 L1512.1,1036.4 L1512.9,1037.7 L1513.6,1031.9 L1514.4,1041.0 L1515.1,1037.4 L1515.9,1035.5 L1516.7,1034.9 L1517.4,1033.6 L1518.2,1031.5 L1518.9,1035.4 L1519.7,1031.5 L1520.5,1029.6 L1521.2,1026.5 L1522.0,1027.6 L1522.7,1033.0 L1523.5,1026.7 L1524.3,1017.5 L1525.0,1017.6 L1525.8,1027.0 L1526.5,1019.8 L1527.3,1026.0 L1528.1,1027.1 L1528.8,1027.5 L1529.6,1031.7 L1530.3,1023.5 L1531.1,1025.1 L1531.9,1022.0 L1532.6,1019.3 L1533.4,1020.7 L1534.1,1027.8 L1534.9,1027.3 L1535.7,1018.7 L1536.4,1023.7 L1537.2,1019.7 L1537.9,1022.8 L1538.7,1016.0 L1539.5,1019.6 L1540.2,1018.4 L1541.0,1014.3 L1541.7,1015.3 L1542.5,1014.9 L1543.3,1016.6 L1544.0,1022.0 L1544.8,1022.2 L1545.5,1021.6 L1546.3,1017.9 L1547.1,1019.6 L1547.8,1013.6 L1548.6,1017.6 L1549.3,1022.4 L1550.1,1019.7 L1550.9,1016.2 L1551.6,1021.3 L1552.4,1020.3 L1553.1,1020.0 L1553.9,1017.9 L1554.7,1022.9 L1555.4,1019.4 L1556.2,1017.0 L1556.9,1019.7 L1557.7,1022.1 L1558.5,1024.7 L1559.2,1022.9 L1560.0,1012.1 L1560.7,1022.0 L1561.5,1019.9 L1562.3,1019.2 L1563.0,1022.3 L1563.8,1022.9 L1564.5,1018.2 L1565.3,1014.9 L1566.1,1012.8 L1566.8,1015.2 L1567.6,1016.0 L1568.3,1012.4 L1569.1,1020.3 L1569.9,1019.6 L1570.6,1017.7 L1571.4,1021.2 L1572.1,1017.7 L1572.9,1014.0 L1573.7,1018.8 L1574.4,1022.0 L1575.2,1014.4 L1575.9,1010.4 L1576.7,1018.6 L1577.5,1008.9 L1578.2,1010.5 L1579.0,1014.9 L1579.7,1012.3 L1580.5,1018.7 L1581.3,1012.5 L1582.0,1015.0 L1582.8,1016.0 L1583.5,1012.5 L1584.3,1014.6 L1585.1,1005.9 L1585.8,1018.7 L1586.6,1013.2 L1587.3,1011.6 L1588.1,1010.3 L1588.9,1014.3 L1589.6,1012.6 L1590.4,1016.7 L1591.1,1014.3 L1591.9,1011.9 L1592.7,1014.9 L1593.4,1013.4 L1594.2,1015.0 L1594.9,1012.5 L1595.7,1009.3 L1596.5,1010.4 L1597.2,1006.2 L1598.0,1006.8 L1598.7,1005.2 L1599.5,1005.9 L1600.3,1000.1 L1601.0,1003.8 L1601.8,1005.6 L1602.5,1002.8 L1603.3,1006.9 L1604.1,1007.1 L1604.8,1010.8 L1605.6,1004.7 L1606.3,1003.7 L1607.1,1004.0 L1607.9,1010.9 L1608.6,1008.1 L1609.4,1006.3 L1610.1,1010.9 L1610.9,1013.6 L1611.7,1017.8 L1612.4,1015.1 L1613.2,1008.5 L1613.9,1016.3 L1614.7,1009.4 L1615.5,1013.5 L1616.2,1014.9 L1617.0,1007.7 L1617.7,1013.1 L1618.5,1013.4 L1619.3,1020.4 L1620.0,1011.8 L1620.8,1016.5 L1621.5,1013.4 L1622.3,1013.7 L1623.1,1011.1 L1623.8,1018.5 L1624.6,1019.1 L1625.3,1018.9 L1626.1,1008.7 L1626.9,1008.2 L1627.6,1014.0 L1628.4,1018.0 L1629.1,1016.5 L1629.9,1013.0 L1630.7,1010.4 L1631.4,1018.1 L1632.2,1017.1 L1632.9,1009.5 L1633.7,1011.1 L1634.5,1010.1 L1635.2,1017.3 L1636.0,1012.4 L1636.7,1012.7 L1637.5,1005.2 L1638.3,1009.1 L1639.0,1006.9 L1639.8,1007.4 L1640.5,1008.0 L1641.3,1006.4 L1642.1,1003.0 L1642.8,1011.3 L1643.6,1004.0 L1644.3,1005.1 L1645.1,1001.7 L1645.9,1008.7 L1646.6,1008.3 L1647.4,1005.6 L1648.1,1004.9 L1648.9,1008.3 L1649.7,1006.5 L1650.4,1003.9 L1651.2,1009.4 L1651.9,1011.1 L1652.7,1009.2 L1653.5,1012.4 L1654.2,1011.2 L1655.0,1016.1 L1655.7,1014.6 L1656.5,1011.1 L1657.3,1017.1 L1658.0,1014.7 L1658.8,1012.1 L1659.5,1011.6 L1660.3,1013.9 L1661.1,1008.1 L1661.8,1012.5 L1662.6,1013.5 L1663.3,1009.5 L1664.1,1011.8 L1664.9,1011.6 L1665.6,1010.1 L1666.4,1015.0 L1667.1,1016.6 L1667.9,1017.0 L1668.7,1018.7 L1669.4,1013.6 L1670.2,1012.4 L1670.9,1013.6 L1671.7,1017.6 L1672.5,1018.0 L1673.2,1009.5 L1674.0,1012.8 L1674.7,1011.0 L1675.5,1014.3 L1676.3,1005.9 L1677.0,1012.2 L1677.8,1007.7 L1678.5,1008.1 L1679.3,1017.3 L1680.1,1013.6 L1680.8,1021.8 L1681.6,1020.5 L1682.3,1022.2 L1683.1,1020.2 L1683.9,1016.2 L1684.6,1019.7 L1685.4,1013.4 L1686.1,1014.1 L1686.9,1019.4 L1687.7,1023.0 L1688.4,1017.1 L1689.2,1011.5 L1689.9,1015.8 L1690.7,1018.5 L1691.5,1020.4 L1692.2,1016.8 L1693.0,1021.8 L1693.7,1019.3 L1694.5,1016.9 L1695.3,1014.3 L1696.0,1022.9 L1696.8,1015.0 L1697.5,1015.6 L1698.3,1013.9 L1699.1,1017.5 L1699.8,1010.8 L1700.6,1019.3 L1701.3,1011.3 L1702.1,1018.6 L1702.9,1011.5 L1703.6,1012.0 L1704.4,1013.6 L1705.1,1016.7 L1705.9,1015.1 L1706.7,1012.2 L1707.4,1014.8 L1708.2,1017.2 L1708.9,1009.0 L1709.7,1019.4 L1710.5,1015.5 L1711.2,1009.3 L1712.0,1017.2 L1712.7,1016.6 L1713.5,1015.8 L1714.3,1017.0 L1715.0,1017.0 L1715.8,1022.0 L1716.5,1020.4 L1717.3,1022.8 L1718.1,1020.4 L1718.8,1025.9 L1719.6,1020.9 L1720.3,1022.9 L1721.1,1020.4 L1721.9,1019.9 L1722.6,1022.7 L1723.4,1021.9 L1724.1,1018.8 L1724.9,1018.5 L1725.7,1015.9 L1726.4,1019.5 L1727.2,1017.4 L1727.9,1018.7 L1728.7,1015.6 L1729.5,1014.9 L1730.2,1017.9 L1731.0,1013.6 L1731.7,1016.5 L1732.5,1017.8 L1733.3,1020.5 L1734.0,1016.4 L1734.8,1017.9 L1735.5,1020.6 L1736.3,1019.2 L1737.1,1020.7 L1737.8,1019.9 L1738.6,1020.3 L1739.3,1017.8 L1740.1,1021.7 L1740.9,1023.7 L1741.6,1023.1 L1742.4,1022.0 L1743.1,1024.3 L1743.9,1028.3 L1744.7,1023.8 L1745.4,1021.7 L1746.2,1029.4 L1746.9,1022.8 L1747.7,1030.1 L1748.5,1027.0 L1749.2,1020.1 L1750.0,1024.3 L1750.7,1024.2 L1751.5,1023.4 L1752.3,1023.0 L1753.0,1026.2 L1753.8,1025.5 L1754.5,1028.1 L1755.3,1022.3 L1756.1,1023.3 L1756.8,1025.3 L1757.6,1022.0 L1758.3,1020.6 L1759.1,1023.5 L1759.9,1018.3 L1760.6,1017.6 L1761.4,1019.8 L1762.1,1023.5 L1762.9,1024.2 L1763.7,1017.1 L1764.4,1019.3 L1765.2,1022.0 L1765.9,1022.1 L1766.7,1017.3 L1767.5,1023.1 L1768.2,1019.4 L1769.0,1019.6 L1769.7,1017.8 L1770.5,1024.7 L1771.3,1025.3 L1772.0,1021.3 L1772.8,1027.1 L1773.5,1026.4 L1774.3,1026.1 L1775.1,1023.8 L1775.8,1026.6 L1776.6,1021.0 L1777.3,1021.0 L1778.1,1021.0 L1778.9,1023.0 L1779.6,1025.1 L1780.4,1013.9 L1781.1,1019.4 L1781.9,1016.9 L1782.7,1021.5 L1783.4,1016.3 L1784.2,1027.4 L1784.9,1020.4 L1785.7,1028.5 L1786.5,1020.5 L1787.2,1027.2 L1788.0,1031.9 L1788.7,1031.5 L1789.5,1024.4 L1790.3,1024.8 L1791.0,1023.8 L1791.8,1032.7 L1792.5,1026.6 L1793.3,1038.3 L1794.1,1036.3 L1794.8,1039.5 L1795.6,1033.2 L1796.3,1035.2 L1797.1,1036.8 L1797.9,1032.3 L1798.6,1032.7 L1799.4,1037.1 L1800.1,1034.5 L1800.9,1035.2 L1801.7,1029.9 L1802.4,1035.4 L1803.2,1037.7 L1803.9,1033.7 L1804.7,1029.3 L1805.5,1033.5 L1806.2,1032.8 L1807.0,1031.1 L1807.7,1026.5 L1808.5,1022.5 L1809.3,1034.9 L1810.0,1029.0 L1810.8,1025.6 L1811.5,1023.8 L1812.3,1019.6 L1813.1,1030.3 L1813.8,1026.0 L1814.6,1025.7 L1815.3,1024.5 L1816.1,1024.3 L1816.9,1027.0 L1817.6,1021.0 L1818.4,1023.7 L1819.1,1028.0 L1819.9,1030.4 L1820.7,1027.4 L1821.4,1028.0 L1822.2,1024.1 L1822.9,1024.8 L1823.7,1028.4 L1824.5,1027.9 L1825.2,1027.5 L1826.0,1027.6 L1826.7,1022.9 L1827.5,1022.2 L1828.3,1030.3 L1829.0,1028.7 L1829.8,1025.7 L1830.5,1029.2 L1831.3,1034.9 L1832.1,1025.4 L1832.8,1028.0 L1833.6,1026.7 L1834.3,1024.9 L1835.1,1025.0 L1835.9,1031.0 L1836.6,1025.0 L1837.4,1021.0 L1838.1,1033.0 L1838.9,1024.7 L1839.7,1029.3 L1840.4,1028.0 L1841.2,1025.4 L1841.9,1032.5 L1842.7,1023.5 L1843.5,1027.7 L1844.2,1027.8 L1845.0,1020.6 L1845.7,1023.8 L1846.5,1029.4 L1847.3,1034.0 L1848.0,1029.5 L1848.8,1020.8 L1849.5,1031.4 L1850.3,1021.5 L1851.1,1024.0 L1851.8,1027.8 L1852.6,1028.7 L1853.3,1027.4 L1854.1,1027.0 L1854.9,1035.1 L1855.6,1023.2 L1856.4,1029.5 L1857.1,1033.2 L1857.9,1032.3 L1858.7,1025.2 L1859.4,1035.8 L1860.2,1036.6 L1860.9,1029.3 L1861.7,1030.5 L1862.5,1038.2 L1863.2,1035.3 L1864.0,1031.1 L1864.7,1036.8 L1865.5,1032.1 L1866.3,1032.1 L1867.0,1030.0 L1867.8,1038.2 L1868.5,1034.2 L1869.3,1033.8 L1870.1,1035.1 L1870.8,1038.7 L1871.6,1036.1 L1872.3,1039.9 L1873.1,1036.2 L1873.9,1040.2 L1874.6,1040.9 L1875.4,1035.3 L1876.1,1035.2 L1876.9,1029.8 L1877.7,1034.0 L1878.4,1042.0 L1879.2,1037.7 L1879.9,1028.9 L1880.7,1031.3 L1881.5,1032.6 L1882.2,1035.1 L1883.0,1034.4 L1883.7,1033.4 L1884.5,1034.3 L1885.3,1032.7 L1886.0,1030.2 L1886.8,1033.5 L1887.5,1025.3 L1888.3,1029.6 L1889.1,1032.8 L1889.8,1036.3 L1890.6,1037.5 L1891.3,1041.0 L1892.1,1041.4 L1892.9,1038.8 L1893.6,1038.8 L1894.4,1040.6 L1895.1,1037.5 L1895.9,1038.4 L1896.7,1040.9 L1897.4,1036.4 L1898.2,1040.4 L1898.9,1040.3 L1899.7,1044.4 L1900.5,1034.7 L1901.2,1037.7 L1902.0,1044.4 L1902.7,1038.0 L1903.5,1040.8 L1904.3,1037.2 L1905.0,1044.1 L1905.8,1034.7 L1906.5,1037.3 L1907.3,1035.9 L1908.1,1043.3 L1908.8,1039.6 L1909.6,1032.1 L1910.3,1044.2 L1911.1,1033.5 L1911.9,1040.6 L1912.6,1043.4 L1913.4,1038.7 L1914.1,1038.5 L1914.9,1036.2 L1915.7,1035.0 L1916.4,1047.8 L1917.2,1045.6 L1917.9,1046.2 L1918.7,1035.3 L1919.5,1037.3 L1920.2,1034.0 L1921.0,1041.2 L1921.7,1045.0 L1922.5,1036.6 L1923.3,1035.9 L1924.0,1043.0 L1924.8,1032.6 L1925.5,1037.7 L1926.3,1031.6 L1927.1,1035.9 L1927.8,1030.8 L1928.6,1025.6 L1929.3,1030.0 L1930.1,1022.4 L1930.9,1028.0 L1931.6,1031.4 L1932.4,1028.3 L1933.1,1017.9 L1933.9,1017.0 L1934.7,1015.5 L1935.4,1017.4 L1936.2,1014.6 L1936.9,1015.8 L1937.7,1026.4 L1938.5,1019.9 L1939.2,1018.7 L1940.0,1015.4 L1940.7,1017.6 L1941.5,1018.9 L1942.3,1016.7 L1943.0,1019.3 L1943.8,1018.8 L1944.5,1011.7 L1945.3,1009.7 L1946.1,1017.7 L1946.8,1007.9 L1947.6,1013.4 L1948.3,1013.2 L1949.1,1017.3 L1949.9,1008.7 L1950.6,1005.1 L1951.4,1015.6 L1952.1,1006.9 L1952.9,1002.0 L1953.7,1004.1 L1954.4,1007.9 L1955.2,1011.9 L1955.9,1009.2 L1956.7,1005.7 L1957.5,1002.3 L1958.2,1005.0 L1959.0,1006.3 L1959.7,1000.6 L1960.5,1003.6 L1961.3,1008.2 L1962.0,1000.4 L1962.8,999.9 L1963.5,998.9 L1964.3,1000.4 L1965.1,997.2 L1965.8,1001.8 L1966.6,1000.0 L1967.3,1000.4 L1968.1,996.0 L1968.9,1000.2 L1969.6,1003.3 L1970.4,995.7 L1971.1,994.5 L1971.9,994.8 L1972.7,992.1 L1973.4,994.0 L1974.2,999.0 L1974.9,997.1 L1975.7,995.6 L1976.5,995.6 L1977.2,993.8 L1978.0,1000.7 L1978.7,995.7 L1979.5,998.9 L1980.3,999.3 L1981.0,992.7 L1981.8,997.4 L1982.5,999.4 L1983.3,990.9 L1984.1,992.6 L1984.8,997.3 L1985.6,996.0 L1986.3,997.6 L1987.1,1000.0 L1987.9,995.8 L1988.6,997.3 L1989.4,997.4 L1990.1,989.6 L1990.9,994.9 L1991.7,995.6 L1992.4,999.7 L1993.2,994.0 L1993.9,997.9 L1994.7,997.8 L1995.5,991.0 L1996.2,988.3 L1997.0,998.6 L1997.7,991.5 L1998.5,997.6 L1999.3,994.5 L2000.0,996.2 L2000.8,987.5 L2001.5,1001.1 L2002.3,987.5 L2003.1,990.0 L2003.8,996.7 L2004.6,999.8 L2005.3,998.3 L2006.1,998.4 L2006.9,992.3 L2007.6,997.6 L2008.4,1001.7 L2009.1,991.4 L2009.9,993.1 L2010.7,998.4 L2011.4,1002.7 L2012.2,1000.2 L2012.9,995.7 L2013.7,999.5 L2014.5,1000.8 L2015.2,997.6 L2016.0,1011.0 L2016.7,1004.5 L2017.5,1006.0 L2018.3,1001.0 L2019.0,1006.9 L2019.8,1005.1 L2020.5,1009.4 L2021.3,1007.4 L2022.1,1003.1 L2022.8,1005.3 L2023.6,1009.3 L2024.3,998.6 L2025.1,998.1 L2025.9,1001.7 L2026.6,997.5 L2027.4,1000.8 L2028.1,994.3 L2028.9,1001.1 L2029.7,1000.4 L2030.4,995.5 L2031.2,992.9 L2031.9,999.1 L2032.7,998.3 L2033.5,994.0 L2034.2,1001.8 L2035.0,996.0 L2035.7,1003.8 L2036.5,1002.7 L2037.3,999.7 L2038.0,1001.9 L2038.8,994.5 L2039.5,999.2 L2040.3,1001.3 L2041.1,994.4 L2041.8,993.8 L2042.6,1004.9 L2043.3,1001.7 L2044.1,1006.7 L2044.9,1005.4 L2045.6,994.2 L2046.4,997.1 L2047.1,1000.2 L2047.9,1000.7 L2048.7,1000.5 L2049.4,997.8 L2050.2,999.1 L2050.9,995.4 L2051.7,1002.2 L2052.5,993.1 L2053.2,995.3 L2054.0,1000.1 L2054.7,994.9 L2055.5,997.6 L2056.3,994.6 L2057.0,997.7 L2057.8,1000.2 L2058.5,994.0 L2059.3,994.2 L2060.1,997.5 L2060.8,1004.1 L2061.6,1003.9 L2062.3,1005.0 L2063.1,1008.0 L2063.9,1001.9 L2064.6,1001.4 L2065.4,1003.3 L2066.1,1005.0 L2066.9,1007.9 L2067.7,1004.7 L2068.4,1007.3 L2069.2,1003.1 L2069.9,1000.3 L2070.7,1012.2 L2071.5,1006.6 L2072.2,1004.9 L2073.0,1006.3 L2073.7,1011.9 L2074.5,1003.2 L2075.3,1002.5 L2076.0,1000.9 L2076.8,1002.2 L2077.5,995.8 L2078.3,1007.2 L2079.1,1002.8 L2079.8,999.8 L2080.6,1007.2 L2081.3,1002.1 L2082.1,1008.6 L2082.9,1002.7 L2083.6,1002.9 L2084.4,1003.8 L2085.1,1004.9 L2085.9,1000.8 L2086.7,1001.0 L2087.4,1002.8 L2088.2,995.2 L2088.9,995.0 L2089.7,1002.2 L2090.5,1002.9 L2091.2,1006.6 L2092.0,1002.6 L2092.7,1007.0 L2093.5,1007.5 L2094.3,1003.0 L2095.0,1000.8 L2095.8,1000.1 L2096.5,1002.7 L2097.3,998.2 L2098.1,1004.8 L2098.8,1007.6 L2099.6,1003.1 L2100.3,1009.5 L2101.1,1003.9 L2101.9,1007.8 L2102.6,1009.4 L2103.4,1002.5 L2104.1,1009.4 L2104.9,1012.8 L2105.7,1012.6 L2106.4,1011.8 L2107.2,1004.5 L2107.9,1006.6 L2108.7,999.8 L2109.5,1006.5 L2110.2,1003.3 L2111.0,1005.5 L2111.7,996.4 L2112.5,999.7 L2113.3,988.4 L2114.0,977.1 L2114.8,983.2 L2115.5,986.9 L2116.3,980.6 L2117.1,979.6 L2117.8,973.7 L2118.6,979.4 L2119.3,985.2 L2120.1,982.5 L2120.9,983.9 L2121.6,988.8 L2122.4,1005.3 L2123.1,1000.8 L2123.9,996.2 L2124.7,1003.6 L2125.4,1001.6 L2126.2,1001.2 L2126.9,999.4 L2127.7,999.8 L2128.5,999.2 L2129.2,1007.2 L2130.0,1000.7 L2130.7,1001.2 L2131.5,1005.7 L2132.3,1008.0 L2133.0,1007.3 L2133.8,1005.1 L2134.5,1004.0 L2135.3,1007.3 L2136.1,1005.8 L2136.8,1005.9 L2137.6,1008.8 L2138.3,1004.0 L2139.1,1006.4 L2139.9,1000.4 L2140.6,1000.6 L2141.4,1001.0 L2142.1,1001.6 L2142.9,995.9 L2143.7,997.3 L2144.4,1008.2 L2145.2,1002.9 L2145.9,1001.0 L2146.7,998.1 L2147.5,1002.7 L2148.2,1008.7 L2149.0,1011.2 L2149.7,1003.3 L2150.5,1008.1 L2151.3,1011.5 L2152.0,1011.9 L2152.8,1010.1 L2153.5,1008.8 L2154.3,1009.6 L2155.1,1005.4 L2155.8,1008.2 L2156.6,1008.9 L2157.3,1004.9 L2158.1,1009.9 L2158.9,1007.5 L2159.6,1001.6 L2160.4,1001.1 L2161.1,1003.6 L2161.9,1003.8 L2162.7,1004.1 L2163.4,1002.8 L2164.2,1001.3 L2164.9,1008.8 L2165.7,1008.7 L2166.5,1003.8 L2167.2,1003.7 L2168.0,1003.8 L2168.7,1005.2 L2169.5,1002.5 L2170.3,1005.5 L2171.0,995.0 L2171.8,998.8 L2172.5,999.1 L2173.3,995.7 L2174.1,999.9 L2174.8,999.5 L2175.6,998.6 L2176.3,999.3 L2177.1,1007.5 L2177.9,1004.6 L2178.6,1011.4 L2179.4,1008.2 L2180.1,1011.3 L2180.9,1006.8 L2181.7,1005.4 L2182.4,1012.7 L2183.2,1010.7 L2183.9,1017.8 L2184.7,1012.5 L2185.5,1011.0 L2186.2,1010.5 L2187.0,1007.9 L2187.7,1011.6 L2188.5,1007.5 L2189.3,1010.7"/>
<path id="blue" stroke="#00f" stroke-width="9" d="M212.5,724.6 L213.3,716.9 L214.0,715.3 L214.8,704.8 L215.5,713.1 L216.3,713.4 L217.1,713.6 L217.8,710.6 L218.6,713.2 L219.3,710.4 L220.1,705.2 L220.9,712.6 L221.6,708.1 L222.4,708.8 L223.1,695.8 L223.9,687.7 L224.7,689.5 L225.4,696.0 L226.2,720.7 L226.9,722.0 L227.7,732.7 L228.5,738.5 L229.2,747.3 L230.0,740.3 L230.7,733.6 L231.5,736.5 L232.3,743.3 L233.0,738.9 L233.8,735.2 L234.5,737.5 L235.3,741.5 L236.1,747.2 L236.8,729.6 L237.6,732.4 L238.3,732.0 L239.1,726.4 L239.9,734.8 L240.6,737.4 L241.4,752.2 L242.1,749.3 L242.9,744.7 L243.7,755.8 L244.4,749.0 L245.2,739.5 L245.9,741.9 L246.7,740.3 L247.5,737.2 L248.2,739.9 L249.0,731.2 L249.7,748.3 L250.5,764.0 L251.3,772.5 L252.0,783.1 L252.8,781.5 L253.5,782.0 L254.3,765.8 L255.1,773.6 L255.8,758.5 L256.6,764.7 L257.3,759.0 L258.1,774.2 L258.9,776.4 L259.6,768.4 L260.4,779.4 L261.1,765.9 L261.9,770.5 L262.7,769.5 L263.4,762.0 L264.2,768.1 L264.9,774.9 L265.7,759.9 L266.5,768.7 L267.2,764.3 L268.0,776.1 L268.7,772.3 L269.5,774.4 L270.3,772.3 L271.0,765.1 L271.8,753.4 L272.5,763.8 L273.3,747.0 L274.1,756.2 L274.8,759.4 L275.6,753.2 L276.3,758.8 L277.1,765.0 L277.9,756.5 L278.6,747.3 L279.4,734.6 L280.1,733.3 L280.9,728.8 L281.7,728.4 L282.4,723.9 L283.2,729.3 L283.9,722.0 L284.7,723.1 L285.5,725.1 L286.2,715.2 L287.0,719.7 L287.7,733.8 L288.5,731.3 L289.3,722.0 L290.0,731.3 L290.8,736.9 L291.5,746.3 L292.3,745.2 L293.1,746.1 L293.8,751.2 L294.6,758.3 L295.3,755.3 L296.1,749.3 L296.9,750.5 L297.6,748.2 L298.4,752.4 L299.1,744.5 L299.9,752.0 L300.7,759.4 L301.4,761.7 L302.2,759.9 L302.9,775.6 L303.7,767.5 L304.5,775.7 L305.2,772.5 L306.0,770.0 L306.7,783.0 L307.5,786.4 L308.3,786.1 L309.0,790.1 L309.8,787.3 L310.5,788.2 L311.3,794.6 L312.1,805.7 L312.8,798.5 L313.6,791.8 L314.3,796.0 L315.1,789.6 L315.9,788.0 L316.6,793.9 L317.4,786.9 L318.1,785.2 L318.9,792.7 L319.7,802.5 L320.4,807.2 L321.2,816.9 L321.9,811.2 L322.7,822.3 L323.5,820.5 L324.2,816.3 L325.0,820.3 L325.7,818.4 L326.5,810.6 L327.3,819.8 L328.0,805.5 L328.8,810.5 L329.5,807.6 L330.3,808.2 L331.1,800.4 L331.8,802.8 L332.6,806.6 L333.3,815.9 L334.1,809.4 L334.9,817.3 L335.6,815.8 L336.4,810.3 L337.1,827.2 L337.9,815.8 L338.7,808.1 L339.4,822.7 L340.2,809.0 L340.9,816.5 L341.7,819.8 L342.5,810.2 L343.2,809.7 L344.0,807.0 L344.7,807.8 L345.5,799.3 L346.3,799.3 L347.0,804.0 L347.8,810.8 L348.5,809.8 L349.3,816.3 L350.1,812.5 L350.8,808.8 L351.6,812.4 L352.3,804.4 L353.1,810.4 L353.9,811.3 L354.6,819.2 L355.4,822.8 L356.1,818.1 L356.9,819.9 L357.7,816.7 L358.4,824.4 L359.2,824.3 L359.9,824.1 L360.7,815.8 L361.5,828.3 L362.2,822.8 L363.0,814.9 L363.7,813.1 L364.5,814.2 L365.3,817.4 L366.0,817.7 L366.8,821.6 L367.5,823.7 L368.3,827.8 L369.1,828.2 L369.8,822.0 L370.6,826.9 L371.3,823.9 L372.1,824.0 L372.9,837.9 L373.6,825.5 L374.4,838.5 L375.1,826.6 L375.9,830.6 L376.7,836.1 L377.4,831.5 L378.2,834.7 L378.9,833.3 L379.7,834.3 L380.5,837.0 L381.2,835.8 L382.0,848.9 L382.7,842.1 L383.5,853.4 L384.3,834.7 L385.0,847.1 L385.8,850.7 L386.5,847.7 L387.3,855.6 L388.1,854.4 L388.8,852.2 L389.6,857.2 L390.3,865.6 L391.1,856.4 L391.9,856.4 L392.6,852.1 L393.4,855.2 L394.1,847.4 L394.9,854.2 L395.7,865.8 L396.4,861.0 L397.2,859.4 L397.9,862.9 L398.7,868.2 L399.5,862.8 L400.2,872.8 L401.0,869.0 L401.7,865.9 L402.5,874.4 L403.3,857.4 L404.0,866.0 L404.8,871.8 L405.5,867.6 L406.3,871.7 L407.1,868.6 L407.8,867.8 L408.6,881.7 L409.3,874.2 L410.1,871.1 L410.9,877.2 L411.6,869.0 L412.4,875.7 L413.1,873.2 L413.9,880.9 L414.7,866.4 L415.4,879.4 L416.2,877.1 L416.9,872.7 L417.7,885.3 L418.5,876.9 L419.2,891.9 L420.0,887.0 L420.7,888.7 L421.5,884.7 L422.3,888.2 L423.0,872.2 L423.8,882.4 L424.5,877.1 L425.3,881.2 L426.1,880.0 L426.8,883.9 L427.6,877.7 L428.3,893.5 L429.1,896.6 L429.9,887.0 L430.6,890.6 L431.4,892.7 L432.1,899.6 L432.9,901.8 L433.7,884.0 L434.4,886.2 L435.2,881.5 L435.9,879.2 L436.7,875.2 L437.5,885.1 L438.2,876.5 L439.0,889.9 L439.7,887.1 L440.5,876.9 L441.3,876.5 L442.0,878.0 L442.8,889.8 L443.5,879.0 L444.3,876.5 L445.1,883.8 L445.8,887.0 L446.6,882.5 L447.3,894.5 L448.1,888.6 L448.9,890.6 L449.6,884.5 L450.4,889.2 L451.1,889.1 L451.9,881.5 L452.7,893.9 L453.4,882.4 L454.2,891.8 L454.9,883.6 L455.7,901.0 L456.5,892.7 L457.2,895.1 L458.0,894.4 L458.7,882.0 L459.5,877.9 L460.3,885.9 L461.0,891.0 L461.8,885.2 L462.5,888.4 L463.3,887.5 L464.1,875.6 L464.8,885.4 L465.6,894.6 L466.3,882.9 L467.1,875.8 L467.9,886.0 L468.6,885.5 L469.4,891.9 L470.1,886.1 L470.9,892.8 L471.7,882.7 L472.4,898.6 L473.2,901.9 L473.9,899.6 L474.7,884.0 L475.5,892.2 L476.2,879.8 L477.0,890.4 L477.7,888.3 L478.5,884.3 L479.3,891.5 L480.0,890.7 L480.8,896.1 L481.5,891.1 L482.3,891.6 L483.1,880.9 L483.8,885.7 L484.6,890.2 L485.3,894.1 L486.1,892.6 L486.9,900.5 L487.6,889.1 L488.4,892.8 L489.1,897.2 L489.9,896.8 L490.7,901.2 L491.4,897.1 L492.2,907.6 L492.9,897.9 L493.7,905.4 L494.5,898.8 L495.2,907.1 L496.0,891.4 L496.7,902.1 L497.5,898.5 L498.3,903.7 L499.0,909.7 L499.8,899.3 L500.5,899.7 L501.3,902.7 L502.1,911.7 L502.8,897.5 L503.6,905.6 L504.3,896.1 L505.1,894.6 L505.9,896.7 L506.6,900.0 L507.4,896.1 L508.1,898.4 L508.9,902.1 L509.7,900.7 L510.4,893.0 L511.2,901.6 L511.9,904.8 L512.7,911.9 L513.5,918.0 L514.2,912.2 L515.0,910.4 L515.7,906.7 L516.5,912.9 L517.3,917.9 L518.0,921.5 L518.8,912.0 L519.5,915.8 L520.3,917.5 L521.1,922.2 L521.8,913.4 L522.6,908.2 L523.3,905.1 L524.1,907.2 L524.9,905.7 L525.6,913.3 L526.4,914.5 L527.1,914.2 L527.9,917.1 L528.7,909.0 L529.4,913.7 L530.2,910.4 L530.9,913.6 L531.7,919.8 L532.5,913.7 L533.2,904.1 L534.0,913.4 L534.7,910.6 L535.5,906.4 L536.3,910.0 L537.0,918.4 L537.8,922.9 L538.5,912.4 L539.3,919.8 L540.1,919.9 L540.8,906.9 L541.6,912.2 L542.3,912.0 L543.1,913.0 L543.9,902.3 L544.6,909.1 L545.4,915.5 L546.1,915.2 L546.9,917.8 L547.7,906.0 L548.4,918.4 L549.2,911.5 L549.9,900.2 L550.7,910.5 L551.5,903.0 L552.2,904.6 L553.0,898.1 L553.7,903.8 L554.5,897.3 L555.3,892.9 L556.0,896.9 L556.8,892.5 L557.5,888.7 L558.3,898.0 L559.1,889.7 L559.8,889.1 L560.6,891.3 L561.3,887.0 L562.1,891.7 L562.9,904.3 L563.6,890.1 L564.4,893.8 L565.1,888.3 L565.9,891.1 L566.7,902.0 L567.4,898.3 L568.2,889.8 L568.9,891.8 L569.7,886.7 L570.5,885.7 L571.2,882.7 L572.0,882.4 L572.7,887.7 L573.5,887.6 L574.3,884.1 L575.0,879.3 L575.8,871.3 L576.5,877.4 L577.3,872.2 L578.1,880.4 L578.8,878.0 L579.6,877.4 L580.3,869.4 L581.1,860.6 L581.9,875.5 L582.6,875.2 L583.4,860.4 L584.1,867.1 L584.9,872.0 L585.7,859.3 L586.4,873.5 L587.2,862.1 L587.9,858.5 L588.7,870.7 L589.5,864.7 L590.2,859.5 L591.0,867.2 L591.7,852.1 L592.5,870.4 L593.3,856.8 L594.0,862.7 L594.8,857.7 L595.5,860.1 L596.3,860.5 L597.1,849.9 L597.8,857.5 L598.6,849.8 L599.3,847.2 L600.1,849.8 L600.9,844.9 L601.6,844.5 L602.4,853.1 L603.1,847.5 L603.9,854.4 L604.7,850.0 L605.4,840.9 L606.2,835.9 L606.9,841.6 L607.7,845.0 L608.5,843.8 L609.2,839.0 L610.0,847.6 L610.7,832.6 L611.5,833.8 L612.3,840.4 L613.0,849.9 L613.8,841.1 L614.5,833.1 L615.3,840.1 L616.1,839.8 L616.8,840.3 L617.6,832.7 L618.3,828.3 L619.1,830.1 L619.9,829.4 L620.6,833.7 L621.4,833.5 L622.1,816.5 L622.9,816.6 L623.7,817.9 L624.4,816.4 L625.2,819.1 L625.9,819.1 L626.7,819.0 L627.5,824.9 L628.2,816.9 L629.0,811.8 L629.7,809.3 L630.5,812.4 L631.3,812.1 L632.0,807.9 L632.8,820.9 L633.5,817.6 L634.3,814.1 L635.1,810.7 L635.8,806.5 L636.6,810.2 L637.3,824.2 L638.1,803.8 L638.9,814.8 L639.6,815.7 L640.4,811.6 L641.1,805.4 L641.9,814.3 L642.7,795.7 L643.4,807.9 L644.2,813.0 L644.9,789.5 L645.7,789.6 L646.5,798.4 L647.2,808.1 L648.0,813.1 L648.7,807.8 L649.5,792.3 L650.3,788.7 L651.0,801.2 L651.8,802.6 L652.5,789.4 L653.3,798.4 L654.1,797.7 L654.8,801.8 L655.6,780.3 L656.3,792.1 L657.1,776.3 L657.9,780.8 L658.6,780.8 L659.4,794.6 L660.1,799.5 L660.9,788.2 L661.7,793.7 L662.4,799.7 L663.2,782.6 L663.9,804.7 L664.7,787.9 L665.5,811.2 L666.2,807.7 L667.0,798.1 L667.7,786.6 L668.5,805.5 L669.3,791.3 L670.0,787.9 L670.8,790.4 L671.5,767.5 L672.3,783.0 L673.1,784.4 L673.8,774.4 L674.6,769.5 L675.3,754.5 L676.1,767.3 L676.9,762.4 L677.6,761.6 L678.4,755.5 L679.1,766.0 L679.9,767.9 L680.7,760.5 L681.4,764.0 L682.2,766.8 L682.9,770.3 L683.7,758.0 L684.5,750.6 L685.2,744.4 L686.0,745.5 L686.7,748.5 L687.5,749.2 L688.3,734.1 L689.0,736.9 L689.8,724.7 L690.5,742.3 L691.3,724.9 L692.1,730.9 L692.8,721.1 L693.6,721.9 L694.3,717.0 L695.1,737.1 L695.9,722.6 L696.6,716.3 L697.4,707.4 L698.1,708.8 L698.9,716.8 L699.7,723.8 L700.4,695.4 L701.2,699.3 L701.9,703.5 L702.7,697.8 L703.5,687.8 L704.2,702.5 L705.0,707.4 L705.7,686.0 L706.5,701.6 L707.3,705.5 L708.0,701.8 L708.8,687.5 L709.5,707.9 L710.3,694.5 L711.1,679.5 L711.8,694.5 L712.6,674.0 L713.3,690.7 L714.1,668.7 L714.9,688.1 L715.6,676.4 L716.4,691.2 L717.1,685.6 L717.9,680.0 L718.7,674.5 L719.4,679.8 L720.2,649.8 L720.9,666.0 L721.7,663.6 L722.5,660.5 L723.2,659.5 L724.0,665.6 L724.7,644.7 L725.5,648.7 L726.3,640.7 L727.0,649.3 L727.8,617.5 L728.5,648.4 L729.3,626.5 L730.1,615.4 L730.8,622.9 L731.6,632.4 L732.3,635.2 L733.1,631.2 L733.9,638.3 L734.6,631.7 L735.4,629.9 L736.1,613.2 L736.9,635.2 L737.7,637.2 L738.4,622.1 L739.2,608.8 L739.9,612.3 L740.7,638.1 L741.5,614.7 L742.2,614.0 L743.0,610.0 L743.7,621.7 L744.5,609.2 L745.3,605.3 L746.0,598.7 L746.8,609.2 L747.5,617.7 L748.3,606.7 L749.1,615.6 L749.8,606.8 L750.6,607.7 L751.3,605.0 L752.1,602.1 L752.9,610.0 L753.6,603.1 L754.4,591.3 L755.1,596.7 L755.9,592.9 L756.7,597.0 L757.4,589.9 L758.2,588.2 L758.9,569.2 L759.7,584.8 L760.5,593.5 L761.2,570.2 L762.0,595.1 L762.7,582.9 L763.5,578.0 L764.3,563.2 L765.0,589.3 L765.8,570.5 L766.5,576.5 L767.3,584.8 L768.1,569.2 L768.8,567.7 L769.6,565.6 L770.3,573.3 L771.1,576.9 L771.9,572.9 L772.6,571.5 L773.4,563.7 L774.1,566.0 L774.9,556.5 L775.7,580.3 L776.4,562.5 L777.2,542.1 L777.9,547.5 L778.7,570.0 L779.5,542.9 L780.2,550.8 L781.0,557.3 L781.7,543.3 L782.5,562.3 L783.3,567.0 L784.0,543.7 L784.8,560.3 L785.5,542.8 L786.3,541.2 L787.1,551.4 L787.8,549.5 L788.6,541.4 L789.3,551.6 L790.1,529.9 L790.9,532.2 L791.6,529.7 L792.4,543.7 L793.1,541.0 L793.9,538.6 L794.7,520.7 L795.4,533.5 L796.2,534.8 L796.9,516.0 L797.7,523.0 L798.5,534.0 L799.2,534.1 L800.0,529.5 L800.7,532.2 L801.5,528.9 L802.3,527.1 L803.0,524.4 L803.8,519.5 L804.5,525.2 L805.3,522.8 L806.1,542.2 L806.8,529.0 L807.6,527.3 L808.3,526.3 L809.1,528.3 L809.9,526.9 L810.6,531.9 L811.4,526.6 L812.1,531.6 L812.9,520.0 L813.7,525.4 L814.4,529.3 L815.2,512.8 L815.9,519.9 L816.7,520.0 L817.5,516.5 L818.2,516.1 L819.0,506.5 L819.7,528.1 L820.5,512.8 L821.3,510.3 L822.0,523.8 L822.8,505.6 L823.5,525.9 L824.3,522.5 L825.1,521.2 L825.8,518.3 L826.6,512.3 L827.3,507.4 L828.1,533.7 L828.9,521.2 L829.6,520.7 L830.4,537.2 L831.1,521.9 L831.9,525.2 L832.7,526.4 L833.4,525.6 L834.2,518.5 L834.9,522.5 L835.7,537.3 L836.5,533.6 L837.2,514.3 L838.0,515.1 L838.7,532.3 L839.5,527.3 L840.3,526.8 L841.0,538.0 L841.8,518.1 L842.5,541.6 L843.3,533.7 L844.1,538.1 L844.8,536.5 L845.6,542.2 L846.3,535.4 L847.1,535.4 L847.9,545.8 L848.6,542.5 L849.4,534.0 L850.1,552.6 L850.9,552.9 L851.7,555.3 L852.4,546.9 L853.2,550.2 L853.9,545.9 L854.7,542.2 L855.5,551.2 L856.2,552.9 L857.0,549.7 L857.7,568.2 L858.5,541.9 L859.3,549.0 L860.0,550.5 L860.8,564.7 L861.5,553.6 L862.3,553.8 L863.1,550.3 L863.8,553.8 L864.6,548.5 L865.3,568.1 L866.1,568.4 L866.9,572.4 L867.6,562.3 L868.4,583.3 L869.1,563.4 L869.9,558.1 L870.7,574.5 L871.4,579.8 L872.2,587.5 L872.9,577.7 L873.7,591.5 L874.5,600.9 L875.2,583.7 L876.0,585.8 L876.7,579.7 L877.5,596.0 L878.3,600.7 L879.0,601.2 L879.8,602.1 L880.5,607.2 L881.3,599.0 L882.1,604.9 L882.8,594.1 L883.6,599.3 L884.3,611.2 L885.1,607.8 L885.9,621.6 L886.6,631.5 L887.4,625.9 L888.1,619.5 L888.9,620.1 L889.7,637.1 L890.4,622.2 L891.2,630.3 L891.9,629.2 L892.7,631.4 L893.5,640.8 L894.2,629.9 L895.0,625.3 L895.7,647.0 L896.5,640.1 L897.3,644.4 L898.0,640.5 L898.8,647.5 L899.5,651.4 L900.3,653.8 L901.1,643.3 L901.8,646.6 L902.6,655.1 L903.3,656.0 L904.1,661.4 L904.9,656.7 L905.6,650.4 L906.4,672.1 L907.1,679.5 L907.9,684.8 L908.7,695.3 L909.4,692.2 L910.2,686.0 L910.9,699.5 L911.7,694.0 L912.5,706.3 L913.2,700.3 L914.0,703.1 L914.7,702.5 L915.5,701.2 L916.3,692.5 L917.0,705.7 L917.8,693.0 L918.5,710.9 L919.3,716.4 L920.1,724.9 L920.8,717.5 L921.6,710.8 L922.3,704.9 L923.1,733.0 L923.9,709.2 L924.6,728.0 L925.4,708.1 L926.1,723.4 L926.9,731.6 L927.7,730.7 L928.4,729.4 L929.2,725.3 L929.9,728.4 L930.7,744.7 L931.5,744.3 L932.2,742.6 L933.0,748.3 L933.7,745.2 L934.5,760.6 L935.3,765.5 L936.0,752.6 L936.8,760.3 L937.5,767.7 L938.3,757.4 L939.1,778.0 L939.8,777.7 L940.6,767.2 L941.3,778.2 L942.1,785.3 L942.9,766.2 L943.6,781.3 L944.4,777.7 L945.1,777.8 L945.9,783.4 L946.7,775.7 L947.4,768.1 L948.2,770.3 L948.9,783.1 L949.7,790.7 L950.5,787.9 L951.2,788.9 L952.0,792.8 L952.7,806.6 L953.5,803.6 L954.3,796.5 L955.0,802.6 L955.8,815.8 L956.5,804.4 L957.3,806.9 L958.1,812.6 L958.8,807.6 L959.6,824.9 L960.3,810.7 L961.1,831.5 L961.9,824.7 L962.6,822.9 L963.4,832.4 L964.1,824.8 L964.9,837.8 L965.7,839.1 L966.4,832.4 L967.2,833.4 L967.9,839.8 L968.7,832.7 L969.5,835.6 L970.2,837.9 L971.0,845.6 L971.7,836.5 L972.5,841.3 L973.3,848.6 L974.0,833.6 L974.8,844.3 L975.5,837.8 L976.3,840.2 L977.1,861.9 L977.8,854.2 L978.6,861.6 L979.3,853.4 L980.1,858.2 L980.9,853.9 L981.6,854.1 L982.4,857.3 L983.1,860.8 L983.9,869.7 L984.7,861.6 L985.4,866.0 L986.2,864.6 L986.9,868.0 L987.7,862.4 L988.5,877.0 L989.2,870.3 L990.0,875.1 L990.7,874.0 L991.5,880.7 L992.3,879.8 L993.0,879.0 L993.8,880.7 L994.5,882.1 L995.3,885.5 L996.1,885.7 L996.8,891.3 L997.6,894.0 L998.3,889.7 L999.1,879.7 L999.9,896.6 L1000.6,897.2 L1001.4,885.2 L1002.1,887.1 L1002.9,879.1 L1003.7,894.2 L1004.4,884.8 L1005.2,900.1 L1005.9,879.1 L1006.7,890.2 L1007.5,892.9 L1008.2,887.6 L1009.0,884.7 L1009.7,887.6 L1010.5,882.8 L1011.3,882.8 L1012.0,884.0 L1012.8,880.8 L1013.5,884.2 L1014.3,891.4 L1015.1,886.9 L1015.8,892.2 L1016.6,890.3 L1017.3,902.2 L1018.1,892.4 L1018.9,906.3 L1019.6,892.8 L1020.4,898.2 L1021.1,895.6 L1021.9,909.6 L1022.7,906.8 L1023.4,898.6 L1024.2,902.8 L1024.9,912.7 L1025.7,907.8 L1026.5,912.9 L1027.2,903.2 L1028.0,905.7 L1028.7,918.2 L1029.5,927.7 L1030.3,916.6 L1031.0,921.5 L1031.8,913.8 L1032.5,925.5 L1033.3,917.9 L1034.1,918.6 L1034.8,912.5 L1035.6,921.0 L1036.3,924.8 L1037.1,931.1 L1037.9,919.4 L1038.6,933.1 L1039.4,927.9 L1040.1,930.1 L1040.9,928.5 L1041.7,927.1 L1042.4,931.0 L1043.2,946.9 L1043.9,934.2 L1044.7,937.8 L1045.5,944.9 L1046.2,928.8 L1047.0,941.7 L1047.7,937.6 L1048.5,940.3 L1049.3,941.9 L1050.0,935.7 L1050.8,935.6 L1051.5,939.5 L1052.3,938.7 L1053.1,931.6 L1053.8,934.4 L1054.6,928.2 L1055.3,940.1 L1056.1,926.9 L1056.9,934.4 L1057.6,943.2 L1058.4,937.2 L1059.1,931.7 L1059.9,930.9 L1060.7,931.7 L1061.4,940.9 L1062.2,937.8 L1062.9,937.5 L1063.7,948.6 L1064.5,935.3 L1065.2,937.3 L1066.0,939.4 L1066.7,943.9 L1067.5,944.2 L1068.3,942.7 L1069.0,948.8 L1069.8,948.7 L1070.5,943.8 L1071.3,936.8 L1072.1,950.8 L1072.8,942.8 L1073.6,945.2 L1074.3,948.9 L1075.1,944.2 L1075.9,946.2 L1076.6,951.2 L1077.4,950.4 L1078.1,955.1 L1078.9,949.2 L1079.7,953.8 L1080.4,950.3 L1081.2,954.8 L1081.9,957.9 L1082.7,956.2 L1083.5,952.4 L1084.2,958.4 L1085.0,960.9 L1085.7,967.4 L1086.5,960.6 L1087.3,957.9 L1088.0,954.6 L1088.8,970.4 L1089.5,955.8 L1090.3,953.9 L1091.1,958.0 L1091.8,949.8 L1092.6,963.3 L1093.3,958.3 L1094.1,961.4 L1094.9,954.5 L1095.6,956.0 L1096.4,964.1 L1097.1,963.6 L1097.9,969.6 L1098.7,964.2 L1099.4,949.3 L1100.2,961.1 L1100.9,959.1 L1101.7,967.2 L1102.5,962.4 L1103.2,966.0 L1104.0,964.2 L1104.7,968.8 L1105.5,974.6 L1106.3,963.9 L1107.0,956.4 L1107.8,961.1 L1108.5,976.2 L1109.3,968.1 L1110.1,963.8 L1110.8,960.1 L1111.6,968.1 L1112.3,964.2 L1113.1,961.7 L1113.9,959.1 L1114.6,962.4 L1115.4,961.4 L1116.1,966.1 L1116.9,970.0 L1117.7,953.8 L1118.4,955.4 L1119.2,962.8 L1119.9,964.0 L1120.7,957.0 L1121.5,960.8 L1122.2,960.2 L1123.0,959.5 L1123.7,958.0 L1124.5,959.8 L1125.3,964.5 L1126.0,964.5 L1126.8,962.9 L1127.5,960.3 L1128.3,953.7 L1129.1,956.2 L1129.8,962.1 L1130.6,958.2 L1131.3,961.4 L1132.1,958.5 L1132.9,957.8 L1133.6,960.4 L1134.4,950.0 L1135.1,957.6 L1135.9,954.9 L1136.7,962.6 L1137.4,955.2 L1138.2,960.7 L1138.9,957.1 L1139.7,962.2 L1140.5,962.8 L1141.2,957.9 L1142.0,959.4 L1142.7,959.1 L1143.5,961.5 L1144.3,953.8 L1145.0,954.8 L1145.8,951.8 L1146.5,950.9 L1147.3,956.6 L1148.1,960.2 L1148.8,954.1 L1149.6,967.6 L1150.3,956.3 L1151.1,964.7 L1151.9,963.7 L1152.6,953.1 L1153.4,963.3 L1154.1,955.0 L1154.9,962.7 L1155.7,966.1 L1156.4,972.0 L1157.2,965.0 L1157.9,952.6 L1158.7,957.9 L1159.5,967.2 L1160.2,959.6 L1161.0,967.4 L1161.7,954.6 L1162.5,956.6 L1163.3,952.3 L1164.0,957.8 L1164.8,967.3 L1165.5,957.1 L1166.3,967.8 L1167.1,966.8 L1167.8,969.8 L1168.6,965.6 L1169.3,966.9 L1170.1,976.7 L1170.9,958.9 L1171.6,969.6 L1172.4,972.7 L1173.1,967.1 L1173.9,971.7 L1174.7,953.1 L1175.4,960.5 L1176.2,955.3 L1176.9,959.1 L1177.7,962.4 L1178.5,965.7 L1179.2,959.7 L1180.0,970.9 L1180.7,959.2 L1181.5,973.9 L1182.3,969.4 L1183.0,963.1 L1183.8,964.4 L1184.5,965.3 L1185.3,969.6 L1186.1,977.3 L1186.8,983.4 L1187.6,979.9 L1188.3,968.7 L1189.1,966.9 L1189.9,974.6 L1190.6,968.8 L1191.4,974.6 L1192.1,972.5 L1192.9,986.6 L1193.7,966.7 L1194.4,978.4 L1195.2,988.6 L1195.9,977.8 L1196.7,976.4 L1197.5,990.0 L1198.2,973.1 L1199.0,974.0 L1199.7,976.1 L1200.5,986.4 L1201.3,987.6 L1202.0,981.7 L1202.8,992.0 L1203.5,979.4 L1204.3,980.3 L1205.1,978.8 L1205.8,985.4 L1206.6,979.8 L1207.3,978.4 L1208.1,988.0 L1208.9,986.5 L1209.6,984.7 L1210.4,974.6 L1211.1,976.2 L1211.9,981.0 L1212.7,981.2 L1213.4,980.4 L1214.2,983.2 L1214.9,988.2 L1215.7,980.6 L1216.5,987.8 L1217.2,986.5 L1218.0,986.4 L1218.7,989.1 L1219.5,995.1 L1220.3,993.1 L1221.0,988.6 L1221.8,995.4 L1222.5,994.5 L1223.3,996.0 L1224.1,992.2 L1224.8,998.7 L1225.6,995.3 L1226.3,986.3 L1227.1,984.0 L1227.9,982.1 L1228.6,991.9 L1229.4,982.8 L1230.1,984.3 L1230.9,984.4 L1231.7,991.2 L1232.4,995.0 L1233.2,984.9 L1233.9,995.7 L1234.7,989.3 L1235.5,993.4 L1236.2,985.3 L1237.0,982.3 L1237.7,992.0 L1238.5,998.2 L1239.3,984.0 L1240.0,994.2 L1240.8,995.3 L1241.5,998.4 L1242.3,990.3 L1243.1,994.7 L1243.8,1003.9 L1244.6,1010.1 L1245.3,1002.0 L1246.1,1007.1 L1246.9,1002.7 L1247.6,1003.0 L1248.4,1000.1 L1249.1,1000.7 L1249.9,999.0 L1250.7,1001.0 L1251.4,1004.8 L1252.2,998.5 L1252.9,1000.2 L1253.7,993.4 L1254.5,1000.2 L1255.2,986.4 L1256.0,988.5 L1256.7,995.5 L1257.5,988.0 L1258.3,1001.8 L1259.0,1000.1 L1259.8,994.4 L1260.5,999.1 L1261.3,990.7 L1262.1,994.2 L1262.8,997.2 L1263.6,990.7 L1264.3,1004.2 L1265.1,996.0 L1265.9,1004.9 L1266.6,999.9 L1267.4,1003.1 L1268.1,996.9 L1268.9,1000.5 L1269.7,1001.0 L1270.4,1005.1 L1271.2,1012.4 L1271.9,1002.8 L1272.7,1003.7 L1273.5,1007.0 L1274.2,1008.7 L1275.0,1003.6 L1275.7,1003.1 L1276.5,1002.5 L1277.3,1005.2 L1278.0,1005.9 L1278.8,1000.3 L1279.5,1001.9 L1280.3,1009.1 L1281.1,1006.1 L1281.8,1003.6 L1282.6,1010.6 L1283.3,1011.2 L1284.1,1011.0 L1284.9,1011.0 L1285.6,1006.0 L1286.4,1010.7 L1287.1,1011.6 L1287.9,1009.9 L1288.7,998.6 L1289.4,1008.8 L1290.2,1011.4 L1290.9,1011.7 L1291.7,1007.5 L1292.5,1009.4 L1293.2,1000.4 L1294.0,1000.9 L1294.7,998.8 L1295.5,1008.3 L1296.3,1018.8 L1297.0,1018.3 L1297.8,1002.3 L1298.5,1010.6 L1299.3,1012.4 L1300.1,1003.1 L1300.8,991.9 L1301.6,1009.5 L1302.3,998.8 L1303.1,998.6 L1303.9,1010.8 L1304.6,1005.3 L1305.4,1007.3 L1306.1,1012.7 L1306.9,1005.4 L1307.7,1002.5 L1308.4,1013.4 L1309.2,1009.8 L1309.9,1012.9 L1310.7,1011.4 L1311.5,1003.5 L1312.2,1007.2 L1313.0,1005.4 L1313.7,1005.0 L1314.5,1004.0 L1315.3,1005.9 L1316.0,1004.2 L1316.8,998.2 L1317.5,1008.5 L1318.3,996.2 L1319.1,1015.1 L1319.8,1000.5 L1320.6,1004.1 L1321.3,1011.8 L1322.1,1004.4 L1322.9,997.6 L1323.6,997.1 L1324.4,1005.5 L1325.1,1006.5 L1325.9,1009.3 L1326.7,1006.8 L1327.4,1003.9 L1328.2,1009.0 L1328.9,1014.9 L1329.7,1003.8 L1330.5,1019.2 L1331.2,1006.8 L1332.0,1015.6 L1332.7,1019.8 L1333.5,1015.1 L1334.3,1010.5 L1335.0,1012.2 L1335.8,1015.3 L1336.5,996.7 L1337.3,1009.2 L1338.1,1004.7 L1338.8,1003.1 L1339.6,1007.4 L1340.3,1007.1 L1341.1,1008.6 L1341.9,1003.7 L1342.6,1012.6 L1343.4,996.6 L1344.1,1001.3 L1344.9,1000.3 L1345.7,1006.2 L1346.4,1002.9 L1347.2,1006.7 L1347.9,999.2 L1348.7,1010.4 L1349.5,1007.0 L1350.2,999.5 L1351.0,991.9 L1351.7,993.7 L1352.5,991.5 L1353.3,1005.8 L1354.0,1003.3 L1354.8,995.3 L1355.5,1013.5 L1356.3,1002.5 L1357.1,994.3 L1357.8,1012.2 L1358.6,1015.6 L1359.3,1010.3 L1360.1,1006.4 L1360.9,1018.1 L1361.6,1009.7 L1362.4,1012.2 L1363.1,1014.3 L1363.9,1013.2 L1364.7,1009.3 L1365.4,1005.8 L1366.2,1014.3 L1366.9,999.9 L1367.7,1011.3 L1368.5,1010.7 L1369.2,1010.9 L1370.0,1005.7 L1370.7,1008.7 L1371.5,1011.9 L1372.3,1002.9 L1373.0,1007.1 L1373.8,1009.0 L1374.5,999.6 L1375.3,1001.6 L1376.1,1014.4 L1376.8,1011.7 L1377.6,1001.5 L1378.3,1009.1 L1379.1,1006.7 L1379.9,1012.4 L1380.6,1011.9 L1381.4,996.5 L1382.1,1006.3 L1382.9,1015.3 L1383.7,1017.1 L1384.4,1005.9 L1385.2,1003.6 L1385.9,1011.5 L1386.7,1007.9 L1387.5,1010.8 L1388.2,1006.1 L1389.0,1015.0 L1389.7,1014.6 L1390.5,1014.1 L1391.3,1006.2 L1392.0,1003.3 L1392.8,1005.9 L1393.5,1014.7 L1394.3,1002.7 L1395.1,1014.9 L1395.8,1019.7 L1396.6,1008.0 L1397.3,1009.6 L1398.1,1014.5 L1398.9,1014.3 L1399.6,1005.7 L1400.4,1007.5 L1401.1,1009.3 L1401.9,1007.4 L1402.7,1011.0 L1403.4,1009.3 L1404.2,1012.7 L1404.9,997.3 L1405.7,1013.3 L1406.5,1010.7 L1407.2,1006.2 L1408.0,1008.9 L1408.7,1011.5 L1409.5,1007.9 L1410.3,1005.4 L1411.0,1008.2 L1411.8,1003.1 L1412.5,998.7 L1413.3,1000.0 L1414.1,1000.6 L1414.8,1006.4 L1415.6,1009.8 L1416.3,1008.1 L1417.1,1013.7 L1417.9,1005.6 L1418.6,1002.1 L1419.4,1000.6 L1420.1,999.4 L1420.9,1002.1 L1421.7,1010.0 L1422.4,992.3 L1423.2,1002.5 L1423.9,998.5 L1424.7,1002.3 L1425.5,994.9 L1426.2,1001.8 L1427.0,997.0 L1427.7,1004.1 L1428.5,991.3 L1429.3,1004.5 L1430.0,1007.7 L1430.8,997.2 L1431.5,1010.3 L1432.3,1001.9 L1433.1,1013.6 L1433.8,1006.9 L1434.6,1010.3 L1435.3,1008.4 L1436.1,1001.7 L1436.9,1015.8 L1437.6,1014.3 L1438.4,1001.0 L1439.1,1009.5 L1439.9,1008.0 L1440.7,1001.8 L1441.4,1001.9 L1442.2,1014.1 L1442.9,1004.8 L1443.7,1011.0 L1444.5,1016.0 L1445.2,1008.6 L1446.0,1001.5 L1446.7,1010.4 L1447.5,998.3 L1448.3,1001.9 L1449.0,1016.5 L1449.8,1002.3 L1450.5,1008.3 L1451.3,1001.7 L1452.1,1007.4 L1452.8,1009.5 L1453.6,997.9 L1454.3,1005.5 L1455.1,1012.4 L1455.9,1013.3 L1456.6,1009.9 L1457.4,1003.1 L1458.1,1010.6 L1458.9,1005.3 L1459.7,1003.6 L1460.4,1006.2 L1461.2,1015.9 L1461.9,1001.5 L1462.7,1011.3 L1463.5,1006.3 L1464.2,998.2 L1465.0,1000.4 L1465.7,1003.6 L1466.5,1001.6 L1467.3,1005.7 L1468.0,999.7 L1468.8,999.3 L1469.5,1009.6 L1470.3,1003.5 L1471.1,1000.2 L1471.8,1003.7 L1472.6,1014.3 L1473.3,1002.8 L1474.1,998.5 L1474.9,1010.7 L1475.6,1016.1 L1476.4,1013.4 L1477.1,1001.7 L1477.9,998.4 L1478.7,1014.2 L1479.4,1007.9 L1480.2,1011.2 L1480.9,1006.6 L1481.7,1015.0 L1482.5,1006.0 L1483.2,1003.2 L1484.0,1004.8 L1484.7,997.2 L1485.5,1004.8 L1486.3,1004.4 L1487.0,992.4 L1487.8,997.9 L1488.5,996.7 L1489.3,996.6 L1490.1,1007.6 L1490.8,1011.1 L1491.6,1006.9 L1492.3,998.9 L1493.1,996.7 L1493.9,1009.2 L1494.6,1004.4 L1495.4,1003.5 L1496.1,998.0 L1496.9,992.4 L1497.7,1012.9 L1498.4,999.7 L1499.2,1001.7 L1499.9,995.2 L1500.7,1009.9 L1501.5,998.9 L1502.2,1000.4 L1503.0,1003.2 L1503.7,1003.4 L1504.5,1013.1 L1505.3,997.9 L1506.0,1012.0 L1506.8,1006.6 L1507.5,1010.3 L1508.3,1010.0 L1509.1,1015.4 L1509.8,1006.3 L1510.6,1010.1 L1511.3,1015.7 L1512.1,1008.5 L1512.9,1008.6 L1513.6,1012.2 L1514.4,1010.2 L1515.1,1006.3 L1515.9,1007.0 L1516.7,1003.1 L1517.4,1010.7 L1518.2,999.3 L1518.9,995.0 L1519.7,1005.6 L1520.5,993.3 L1521.2,993.8 L1522.0,995.2 L1522.7,999.1 L1523.5,992.7 L1524.3,990.5 L1525.0,987.7 L1525.8,989.5 L1526.5,983.2 L1527.3,984.6 L1528.1,990.5 L1528.8,979.6 L1529.6,977.5 L1530.3,971.8 L1531.1,969.8 L1531.9,963.6 L1532.6,961.6 L1533.4,961.1 L1534.1,962.4 L1534.9,959.6 L1535.7,950.8 L1536.4,952.1 L1537.2,939.9 L1537.9,953.6 L1538.7,949.2 L1539.5,935.3 L1540.2,935.1 L1541.0,929.4 L1541.7,929.2 L1542.5,919.6 L1543.3,913.0 L1544.0,921.7 L1544.8,909.5 L1545.5,914.5 L1546.3,904.8 L1547.1,902.5 L1547.8,908.8 L1548.6,909.4 L1549.3,897.6 L1550.1,893.1 L1550.9,892.8 L1551.6,884.8 L1552.4,873.8 L1553.1,877.5 L1553.9,864.8 L1554.7,872.6 L1555.4,864.5 L1556.2,865.0 L1556.9,852.9 L1557.7,853.3 L1558.5,856.8 L1559.2,856.4 L1560.0,851.8 L1560.7,846.4 L1561.5,834.2 L1562.3,839.9 L1563.0,834.6 L1563.8,829.4 L1564.5,834.2 L1565.3,820.0 L1566.1,829.2 L1566.8,813.3 L1567.6,808.3 L1568.3,807.7 L1569.1,799.3 L1569.9,801.5 L1570.6,801.8 L1571.4,786.6 L1572.1,790.2 L1572.9,783.9 L1573.7,789.6 L1574.4,799.5 L1575.2,789.2 L1575.9,790.7 L1576.7,793.9 L1577.5,784.7 L1578.2,793.3 L1579.0,788.5 L1579.7,787.7 L1580.5,781.1 L1581.3,787.4 L1582.0,798.1 L1582.8,798.8 L1583.5,788.0 L1584.3,789.2 L1585.1,785.8 L1585.8,781.6 L1586.6,777.8 L1587.3,800.3 L1588.1,782.4 L1588.9,792.4 L1589.6,802.4 L1590.4,788.7 L1591.1,791.8 L1591.9,795.1 L1592.7,792.1 L1593.4,796.1 L1594.2,789.8 L1594.9,800.3 L1595.7,794.8 L1596.5,782.9 L1597.2,781.1 L1598.0,785.6 L1598.7,784.4 L1599.5,783.8 L1600.3,793.7 L1601.0,782.9 L1601.8,785.9 L1602.5,790.7 L1603.3,776.8 L1604.1,792.9 L1604.8,795.8 L1605.6,802.2 L1606.3,787.0 L1607.1,790.4 L1607.9,796.5 L1608.6,791.9 L1609.4,784.3 L1610.1,798.9 L1610.9,789.9 L1611.7,794.7 L1612.4,784.0 L1613.2,796.5 L1613.9,787.0 L1614.7,784.3 L1615.5,793.2 L1616.2,794.1 L1617.0,778.9 L1617.7,792.4 L1618.5,795.9 L1619.3,785.5 L1620.0,772.4 L1620.8,784.6 L1621.5,787.4 L1622.3,772.8 L1623.1,792.5 L1623.8,782.3 L1624.6,784.0 L1625.3,793.7 L1626.1,788.3 L1626.9,792.9 L1627.6,784.6 L1628.4,787.4 L1629.1,784.9 L1629.9,785.5 L1630.7,787.4 L1631.4,784.8 L1632.2,781.5 L1632.9,788.8 L1633.7,781.3 L1634.5,790.2 L1635.2,784.8 L1636.0,778.1 L1636.7,772.5 L1637.5,776.4 L1638.3,785.1 L1639.0,777.3 L1639.8,781.0 L1640.5,773.5 L1641.3,771.0 L1642.1,767.7 L1642.8,759.8 L1643.6,776.4 L1644.3,775.2 L1645.1,774.9 L1645.9,780.1 L1646.6,768.8 L1647.4,787.8 L1648.1,766.7 L1648.9,777.7 L1649.7,768.3 L1650.4,772.6 L1651.2,782.1 L1651.9,762.9 L1652.7,775.0 L1653.5,772.6 L1654.2,772.5 L1655.0,770.9 L1655.7,774.2 L1656.5,773.5 L1657.3,771.8 L1658.0,777.6 L1658.8,776.0 L1659.5,772.1 L1660.3,764.8 L1661.1,781.2 L1661.8,775.3 L1662.6,788.8 L1663.3,775.2 L1664.1,770.3 L1664.9,787.0 L1665.6,773.6 L1666.4,767.9 L1667.1,785.1 L1667.9,766.5 L1668.7,785.1 L1669.4,769.1 L1670.2,779.0 L1670.9,776.2 L1671.7,761.5 L1672.5,772.7 L1673.2,769.5 L1674.0,774.2 L1674.7,776.4 L1675.5,784.0 L1676.3,771.4 L1677.0,772.2 L1677.8,786.1 L1678.5,778.3 L1679.3,778.5 L1680.1,761.9 L1680.8,763.5 L1681.6,769.1 L1682.3,773.2 L1683.1,779.0 L1683.9,791.0 L1684.6,770.1 L1685.4,779.1 L1686.1,786.0 L1686.9,782.9 L1687.7,789.5 L1688.4,777.6 L1689.2,773.0 L1689.9,793.0 L1690.7,782.6 L1691.5,771.4 L1692.2,776.3 L1693.0,776.9 L1693.7,766.4 L1694.5,782.3 L1695.3,778.4 L1696.0,775.9 L1696.8,775.2 L1697.5,789.9 L1698.3,778.0 L1699.1,772.6 L1699.8,764.8 L1700.6,772.6 L1701.3,784.3 L1702.1,790.2 L1702.9,771.8 L1703.6,766.0 L1704.4,779.3 L1705.1,778.5 L1705.9,784.2 L1706.7,773.6 L1707.4,778.3 L1708.2,764.2 L1708.9,768.1 L1709.7,772.1 L1710.5,772.0 L1711.2,778.9 L1712.0,782.6 L1712.7,766.5 L1713.5,787.7 L1714.3,771.1 L1715.0,775.0 L1715.8,784.6 L1716.5,763.4 L1717.3,766.7 L1718.1,771.9 L1718.8,778.9 L1719.6,786.2 L1720.3,786.0 L1721.1,773.6 L1721.9,784.7 L1722.6,776.6 L1723.4,789.5 L1724.1,777.9 L1724.9,787.0 L1725.7,771.7 L1726.4,782.7 L1727.2,766.5 L1727.9,775.8 L1728.7,763.1 L1729.5,772.2 L1730.2,767.3 L1731.0,765.6 L1731.7,774.5 L1732.5,778.4 L1733.3,774.0 L1734.0,775.1 L1734.8,778.0 L1735.5,782.2 L1736.3,781.9 L1737.1,780.7 L1737.8,791.8 L1738.6,776.3 L1739.3,785.4 L1740.1,772.9 L1740.9,795.1 L1741.6,780.2 L1742.4,785.0 L1743.1,792.5 L1743.9,782.6 L1744.7,779.6 L1745.4,773.2 L1746.2,784.2 L1746.9,800.9 L1747.7,787.6 L1748.5,799.7 L1749.2,794.2 L1750.0,784.5 L1750.7,779.6 L1751.5,787.8 L1752.3,792.5 L1753.0,787.8 L1753.8,790.9 L1754.5,792.5 L1755.3,786.6 L1756.1,778.8 L1756.8,785.7 L1757.6,793.0 L1758.3,783.7 L1759.1,783.4 L1759.9,782.9 L1760.6,786.8 L1761.4,787.5 L1762.1,787.6 L1762.9,780.1 L1763.7,788.5 L1764.4,783.8 L1765.2,781.1 L1765.9,774.6 L1766.7,778.9 L1767.5,782.5 L1768.2,787.1 L1769.0,788.3 L1769.7,785.9 L1770.5,786.4 L1771.3,778.4 L1772.0,792.6 L1772.8,794.2 L1773.5,794.0 L1774.3,785.2 L1775.1,787.9 L1775.8,786.4 L1776.6,780.6 L1777.3,788.5 L1778.1,781.9 L1778.9,780.9 L1779.6,797.1 L1780.4,796.6 L1781.1,797.7 L1781.9,790.0 L1782.7,793.2 L1783.4,797.7 L1784.2,790.9 L1784.9,779.5 L1785.7,805.0 L1786.5,798.6 L1787.2,798.9 L1788.0,791.7 L1788.7,785.4 L1789.5,791.8 L1790.3,793.8 L1791.0,783.0 L1791.8,790.0 L1792.5,798.5 L1793.3,806.8 L1794.1,801.3 L1794.8,793.4 L1795.6,787.2 L1796.3,812.1 L1797.1,800.7 L1797.9,805.6 L1798.6,800.5 L1799.4,792.6 L1800.1,816.0 L1800.9,807.4 L1801.7,812.2 L1802.4,800.5 L1803.2,807.5 L1803.9,816.0 L1804.7,803.5 L1805.5,802.1 L1806.2,799.4 L1807.0,798.8 L1807.7,813.8 L1808.5,807.7 L1809.3,795.9 L1810.0,817.3 L1810.8,813.5 L1811.5,813.8 L1812.3,794.0 L1813.1,806.6 L1813.8,815.6 L1814.6,798.7 L1815.3,799.3 L1816.1,804.4 L1816.9,792.1 L1817.6,807.9 L1818.4,813.5 L1819.1,809.8 L1819.9,816.5 L1820.7,807.2 L1821.4,805.8 L1822.2,805.9 L1822.9,802.9 L1823.7,799.2 L1824.5,801.4 L1825.2,805.4 L1826.0,803.3 L1826.7,807.3 L1827.5,805.5 L1828.3,807.8 L1829.0,799.2 L1829.8,786.8 L1830.5,793.5 L1831.3,814.0 L1832.1,807.6 L1832.8,799.7 L1833.6,801.6 L1834.3,802.9 L1835.1,799.8 L1835.9,805.4 L1836.6,808.6 L1837.4,812.8 L1838.1,801.7 L1838.9,803.6 L1839.7,803.3 L1840.4,806.7 L1841.2,813.0 L1841.9,801.8 L1842.7,821.4 L1843.5,811.7 L1844.2,816.8 L1845.0,803.8 L1845.7,807.8 L1846.5,807.6 L1847.3,812.5 L1848.0,798.3 L1848.8,816.0 L1849.5,802.2 L1850.3,817.1 L1851.1,822.3 L1851.8,815.2 L1852.6,814.4 L1853.3,815.2 L1854.1,814.0 L1854.9,817.2 L1855.6,822.5 L1856.4,818.9 L1857.1,823.1 L1857.9,813.6 L1858.7,808.0 L1859.4,808.6 L1860.2,802.9 L1860.9,807.1 L1861.7,804.6 L1862.5,820.3 L1863.2,812.8 L1864.0,824.4 L1864.7,800.6 L1865.5,815.9 L1866.3,821.8 L1867.0,815.7 L1867.8,811.9 L1868.5,818.5 L1869.3,819.3 L1870.1,818.8 L1870.8,820.4 L1871.6,825.5 L1872.3,820.3 L1873.1,819.9 L1873.9,817.6 L1874.6,822.1 L1875.4,814.4 L1876.1,822.0 L1876.9,816.6 L1877.7,825.7 L1878.4,817.5 L1879.2,820.5 L1879.9,818.9 L1880.7,813.0 L1881.5,828.3 L1882.2,822.7 L1883.0,818.5 L1883.7,827.9 L1884.5,816.7 L1885.3,818.4 L1886.0,825.6 L1886.8,830.4 L1887.5,820.6 L1888.3,833.6 L1889.1,823.8 L1889.8,818.0 L1890.6,828.1 L1891.3,832.6 L1892.1,828.6 L1892.9,832.4 L1893.6,822.6 L1894.4,817.2 L1895.1,832.7 L1895.9,821.2 L1896.7,830.9 L1897.4,828.0 L1898.2,833.1 L1898.9,837.8 L1899.7,818.4 L1900.5,827.2 L1901.2,826.6 L1902.0,837.2 L1902.7,828.3 L1903.5,821.5 L1904.3,822.7 L1905.0,839.1 L1905.8,821.4 L1906.5,827.2 L1907.3,830.5 L1908.1,824.2 L1908.8,828.5 L1909.6,822.3 L1910.3,831.9 L1911.1,842.9 L1911.9,840.0 L1912.6,824.2 L1913.4,846.3 L1914.1,829.3 L1914.9,831.4 L1915.7,848.1 L1916.4,839.0 L1917.2,834.8 L1917.9,845.0 L1918.7,833.2 L1919.5,836.3 L1920.2,830.2 L1921.0,832.1 L1921.7,830.7 L1922.5,836.5 L1923.3,825.5 L1924.0,828.7 L1924.8,815.8 L1925.5,819.7 L1926.3,838.5 L1927.1,833.0 L1927.8,835.1 L1928.6,843.3 L1929.3,839.4 L1930.1,845.2 L1930.9,842.7 L1931.6,831.7 L1932.4,849.3 L1933.1,855.8 L1933.9,854.4 L1934.7,848.2 L1935.4,851.2 L1936.2,854.6 L1936.9,862.9 L1937.7,861.9 L1938.5,854.1 L1939.2,857.1 L1940.0,858.2 L1940.7,858.5 L1941.5,860.4 L1942.3,864.7 L1943.0,857.8 L1943.8,871.6 L1944.5,869.5 L1945.3,868.7 L1946.1,876.1 L1946.8,874.2 L1947.6,885.9 L1948.3,874.4 L1949.1,880.6 L1949.9,882.7 L1950.6,877.1 L1951.4,875.5 L1952.1,886.1 L1952.9,884.4 L1953.7,884.6 L1954.4,885.5 L1955.2,898.9 L1955.9,906.8 L1956.7,899.1 L1957.5,907.3 L1958.2,911.9 L1959.0,913.2 L1959.7,908.5 L1960.5,917.8 L1961.3,919.6 L1962.0,926.7 L1962.8,915.0 L1963.5,920.6 L1964.3,919.2 L1965.1,916.0 L1965.8,905.8 L1966.6,914.0 L1967.3,919.8 L1968.1,908.6 L1968.9,911.5 L1969.6,906.2 L1970.4,913.0 L1971.1,913.6 L1971.9,915.8 L1972.7,912.1 L1973.4,912.2 L1974.2,912.3 L1974.9,918.1 L1975.7,918.3 L1976.5,931.2 L1977.2,915.2 L1978.0,922.4 L1978.7,914.9 L1979.5,915.0 L1980.3,923.2 L1981.0,920.6 L1981.8,920.3 L1982.5,909.5 L1983.3,928.7 L1984.1,925.5 L1984.8,908.4 L1985.6,904.7 L1986.3,908.4 L1987.1,914.1 L1987.9,907.0 L1988.6,913.1 L1989.4,908.3 L1990.1,923.6 L1990.9,910.9 L1991.7,912.3 L1992.4,928.0 L1993.2,917.0 L1993.9,914.8 L1994.7,915.2 L1995.5,918.9 L1996.2,914.8 L1997.0,917.4 L1997.7,912.2 L1998.5,906.9 L1999.3,911.1 L2000.0,912.6 L2000.8,921.4 L2001.5,912.3 L2002.3,907.8 L2003.1,911.5 L2003.8,914.2 L2004.6,901.1 L2005.3,912.2 L2006.1,903.5 L2006.9,907.4 L2007.6,914.8 L2008.4,916.8 L2009.1,917.3 L2009.9,917.0 L2010.7,922.5 L2011.4,915.9 L2012.2,913.3 L2012.9,909.6 L2013.7,922.4 L2014.5,918.0 L2015.2,907.6 L2016.0,908.4 L2016.7,915.6 L2017.5,916.9 L2018.3,909.8 L2019.0,919.3 L2019.8,905.7 L2020.5,912.3 L2021.3,918.8 L2022.1,909.6 L2022.8,913.3 L2023.6,911.0 L2024.3,910.3 L2025.1,900.6 L2025.9,908.6 L2026.6,910.3 L2027.4,911.4 L2028.1,913.7 L2028.9,914.6 L2029.7,907.7 L2030.4,908.4 L2031.2,919.8 L2031.9,914.4 L2032.7,908.1 L2033.5,906.8 L2034.2,914.3 L2035.0,913.7 L2035.7,907.3 L2036.5,909.8 L2037.3,907.4 L2038.0,907.9 L2038.8,919.7 L2039.5,901.7 L2040.3,915.3 L2041.1,905.0 L2041.8,908.1 L2042.6,917.0 L2043.3,904.4 L2044.1,907.4 L2044.9,907.0 L2045.6,910.7 L2046.4,915.5 L2047.1,921.6 L2047.9,911.2 L2048.7,920.0 L2049.4,907.0 L2050.2,926.1 L2050.9,913.3 L2051.7,913.3 L2052.5,916.1 L2053.2,913.9 L2054.0,913.8 L2054.7,904.1 L2055.5,919.2 L2056.3,919.8 L2057.0,914.3 L2057.8,910.1 L2058.5,918.1 L2059.3,923.8 L2060.1,908.7 L2060.8,913.3 L2061.6,920.9 L2062.3,916.7 L2063.1,920.4 L2063.9,921.5 L2064.6,925.8 L2065.4,925.3 L2066.1,924.7 L2066.9,924.6 L2067.7,914.7 L2068.4,906.1 L2069.2,918.7 L2069.9,918.9 L2070.7,917.0 L2071.5,910.3 L2072.2,924.5 L2073.0,903.0 L2073.7,917.4 L2074.5,915.6 L2075.3,916.1 L2076.0,917.3 L2076.8,911.2 L2077.5,909.4 L2078.3,904.9 L2079.1,910.2 L2079.8,908.2 L2080.6,909.0 L2081.3,898.4 L2082.1,897.8 L2082.9,910.4 L2083.6,915.2 L2084.4,905.2 L2085.1,909.1 L2085.9,915.1 L2086.7,920.8 L2087.4,920.9 L2088.2,924.0 L2088.9,915.9 L2089.7,917.2 L2090.5,920.0 L2091.2,910.1 L2092.0,921.1 L2092.7,905.5 L2093.5,906.3 L2094.3,894.0 L2095.0,905.5 L2095.8,902.3 L2096.5,903.0 L2097.3,909.0 L2098.1,901.1 L2098.8,908.4 L2099.6,896.0 L2100.3,906.1 L2101.1,917.1 L2101.9,909.0 L2102.6,911.6 L2103.4,903.7 L2104.1,901.0 L2104.9,916.5 L2105.7,914.9 L2106.4,913.7 L2107.2,908.9 L2107.9,913.7 L2108.7,904.9 L2109.5,910.4 L2110.2,909.3 L2111.0,899.4 L2111.7,911.8 L2112.5,905.1 L2113.3,909.4 L2114.0,897.6 L2114.8,899.2 L2115.5,905.4 L2116.3,911.3 L2117.1,915.3 L2117.8,910.5 L2118.6,907.3 L2119.3,910.9 L2120.1,904.7 L2120.9,907.3 L2121.6,908.7 L2122.4,902.2 L2123.1,908.3 L2123.9,897.5 L2124.7,900.7 L2125.4,910.8 L2126.2,904.0 L2126.9,911.4 L2127.7,910.6 L2128.5,908.9 L2129.2,918.1 L2130.0,912.9 L2130.7,906.5 L2131.5,908.0 L2132.3,909.8 L2133.0,899.3 L2133.8,912.8 L2134.5,905.2 L2135.3,895.0 L2136.1,898.6 L2136.8,912.7 L2137.6,906.2 L2138.3,916.2 L2139.1,903.5 L2139.9,908.4 L2140.6,918.0 L2141.4,920.0 L2142.1,902.6 L2142.9,914.2 L2143.7,904.0 L2144.4,907.5 L2145.2,899.0 L2145.9,911.7 L2146.7,902.9 L2147.5,903.7 L2148.2,918.5 L2149.0,911.6 L2149.7,905.2 L2150.5,895.1 L2151.3,907.1 L2152.0,893.3 L2152.8,900.5 L2153.5,909.7 L2154.3,909.9 L2155.1,905.5 L2155.8,909.6 L2156.6,907.0 L2157.3,902.0 L2158.1,906.5 L2158.9,915.9 L2159.6,905.6 L2160.4,908.3 L2161.1,911.1 L2161.9,901.5 L2162.7,905.1 L2163.4,903.3 L2164.2,914.1 L2164.9,909.0 L2165.7,903.1 L2166.5,903.4 L2167.2,915.4 L2168.0,915.3 L2168.7,913.3 L2169.5,910.0 L2170.3,911.6 L2171.0,907.4 L2171.8,908.7 L2172.5,902.8 L2173.3,899.2 L2174.1,901.3 L2174.8,908.3 L2175.6,917.3 L2176.3,902.6 L2177.1,901.5 L2177.9,912.7 L2178.6,912.9 L2179.4,903.4 L2180.1,905.4 L2180.9,905.6 L2181.7,910.2 L2182.4,920.3 L2183.2,904.3 L2183.9,910.7 L2184.7,906.6 L2185.5,910.1 L2186.2,910.9 L2187.0,911.6 L2187.7,904.5 L2188.5,904.6 L2189.3,916.7"/>
</g>
<g stroke="#000" stroke-width="3" fill="#000" shape-rendering="crispEdges">
<line x1="858.4" y1="220.4" x2="842" y2="255"/>
<polygon stroke="none" points="828.3,285.5 834.5,246 854,255.4"/>
<line x1="817.2" y1="680.3" x2="817.2" y2="580"/>
<polygon stroke="none" points="817.2,547.4 806.7,587.5 828.2,587.5"/>
<line x1="823.2" y1="1182.5" x2="818.5" y2="1115"/>
<polygon stroke="none" points="815.5,1077 808.4,1120.3 830.1,1118.7"/>
</g>
<text id="y1" transform="translate(116.05,1183.80) scale(0.9914,1)" font-size="64" fill="#000" stroke="#000" stroke-width="0.3">1k</text>
<text id="y2" transform="translate(113.72,808.50) scale(1.0279,1)" font-size="64" fill="#000" stroke="#000" stroke-width="0.3">2k</text>
<text id="y3" transform="translate(113.72,434.00) scale(1.0279,1)" font-size="64" fill="#000" stroke="#000" stroke-width="0.3">3k</text>
<text id="y4" transform="translate(114.88,59.10) scale(1.0175,1)" font-size="64" fill="#000" stroke="#000" stroke-width="0.3">4k</text>
<text id="x200" transform="translate(316.95,1434.00) scale(0.9824,1)" font-size="64" fill="#000" stroke="#000" stroke-width="0.3">200</text>
<text id="x400" transform="translate(621.62,1434.00) scale(0.9839,1)" font-size="64" fill="#000" stroke="#000" stroke-width="0.3">400</text>
<text id="x600" transform="translate(924.06,1434.00) scale(0.9802,1)" font-size="64" fill="#000" stroke="#000" stroke-width="0.3">600</text>
<text id="x800" transform="translate(1229.33,1434.00) scale(0.9870,1)" font-size="64" fill="#000" stroke="#000" stroke-width="0.3">800</text>
<text id="x1000" transform="translate(1515.75,1434.00) scale(0.9917,1)" font-size="64" fill="#000" stroke="#000" stroke-width="0.3">1000</text>
<text id="x1200" transform="translate(1819.15,1434.00) scale(0.9908,1)" font-size="64" fill="#000" stroke="#000" stroke-width="0.3">1200</text>
<text id="x1400" transform="translate(2124.04,1434.00) scale(0.9775,1)" font-size="64" fill="#000" stroke="#000" stroke-width="0.3">1400</text>
<text id="n3" transform="translate(275.28,298.50) scale(1.0624,1)" font-size="68" fill="#f00" stroke="#f00" stroke-width="0.3">N-3</text>
<text id="n2" transform="translate(273.05,685.80) scale(1.0730,1)" font-size="68" fill="#00f" stroke="#00f" stroke-width="0.3">N-2</text>
<text id="n1" transform="translate(284.90,1082.30) scale(1.0500,1)" font-size="68" fill="#000" stroke="#000" stroke-width="0.3">N-1</text>
<text id="a499" transform="translate(863.59,202.30) scale(1.0112,1)" font-size="68" fill="#000" stroke="#000" stroke-width="0.3">499</text>
<text id="a497" transform="translate(764.48,758.50) scale(1.0202,1)" font-size="68" fill="#000" stroke="#000" stroke-width="0.3">497</text>
<text id="a494" transform="translate(773.01,1255.40) scale(0.9920,1)" font-size="68" fill="#000" stroke="#000" stroke-width="0.3">494</text>
<text id="xt" transform="translate(842.67,1508.40) scale(1.0632,1)" font-size="68" fill="#000" stroke="#000" stroke-width="0.3">Raman Shift (cm<tspan x="464.47" dy="-44.4" font-size="40">-1</tspan><tspan x="497.64" dy="44.4">)</tspan></text>
<text id="yt" transform="translate(64.30,861.12) rotate(-90) scale(1.0595,1)" font-size="68" fill="#000" stroke="#000" stroke-width="0.3">Intensity (a.u.)</text>
</svg></body></html>
